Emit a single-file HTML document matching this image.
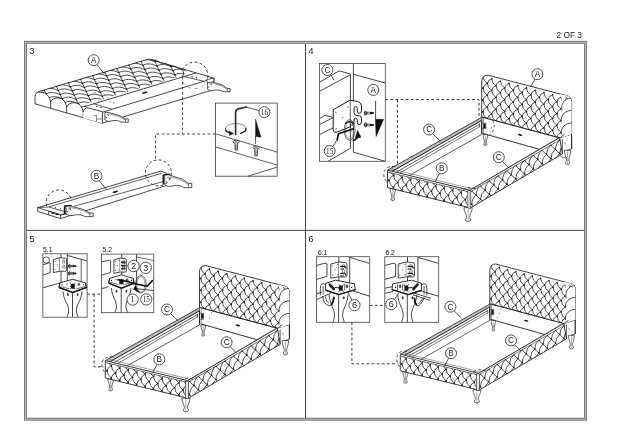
<!DOCTYPE html>
<html lang="en"><head><meta charset="utf-8"><title>Assembly instructions - 2 OF 3</title>
<style>html,body{margin:0;padding:0;background:#fff;}body{width:620px;height:438px;overflow:hidden;}svg{display:block;filter:grayscale(1);}</style>
</head><body>
<svg width="620" height="438" viewBox="0 0 620 438" role="img" aria-label="Bed assembly instructions, page 2 of 3">
<rect x="0" y="0" width="620" height="438" fill="#fff"/>
<rect x="25.5" y="42.3" width="560" height="376.9" fill="none" stroke="#7d7d7d" stroke-width="3"/>
<rect x="25.5" y="42.3" width="560" height="376.9" fill="none" stroke="#b4b4b4" stroke-width="1"/>
<line x1="305.50" y1="44.00" x2="305.50" y2="418.00" stroke="#444" stroke-width="1" />
<line x1="27.00" y1="230.40" x2="584.00" y2="230.40" stroke="#444" stroke-width="1" />
<text x="556.60" y="38.30" font-size="9" text-anchor="start" font-family="'Liberation Sans', sans-serif" fill="#222" textLength="25.4" lengthAdjust="spacingAndGlyphs">2 OF 3</text>
<text x="29.60" y="53.80" font-size="9" text-anchor="start" font-family="'Liberation Sans', sans-serif" fill="#222" >3</text>
<text x="308.60" y="53.80" font-size="9" text-anchor="start" font-family="'Liberation Sans', sans-serif" fill="#222" >4</text>
<text x="29.60" y="241.80" font-size="9" text-anchor="start" font-family="'Liberation Sans', sans-serif" fill="#222" >5</text>
<text x="308.60" y="241.80" font-size="9" text-anchor="start" font-family="'Liberation Sans', sans-serif" fill="#222" >6</text>
<defs><clipPath id="p3q"><path d="M36.0,92.3 L149.0,58.9 L186.12,68.89 L184.12,75.29 L87.50,103.45 L83.2,112 L66.7,107.1 L50.7,102.3 L40,93.5 Z"/></clipPath></defs>
<path d="M35.00,96.40 L35.00,103.80 L102.40,123.20 L214.00,89.60 L214.00,78.20 L149.00,58.90 L38.00,91.80 Z" stroke="#fff" stroke-width="0.01" fill="#fff" />
<path d="M102.4,123.2 L214,89.6 V78.2" stroke="#1a1a1a" stroke-width="0.8" fill="none" />
<path d="M38.4,91.7 L147.0,59.5 Q149.0,58.699999999999996 151.0,59.5 L214.0,78.2" stroke="#1a1a1a" stroke-width="0.8" fill="none" />
<g clip-path="url(#p3q)">
<path d="M6.0,96.5L25.5,138.0M6.0,96.5Q11.5,93.0 20.0,97.0M7.9,100.6Q13.4,97.2 22.0,101.2M9.9,104.8Q15.4,101.3 23.9,105.3M11.8,108.9Q17.3,105.5 25.9,109.5M13.8,113.1Q19.3,109.6 27.8,113.6M15.7,117.2Q21.2,113.8 29.8,117.8M17.7,121.4Q23.2,117.9 31.7,121.9M19.6,125.5Q25.1,122.1 33.7,126.1M21.6,129.7Q27.1,126.2 35.6,130.2M23.5,133.8Q29.0,130.4 37.6,134.4M18.1,92.9L37.6,134.4M18.1,92.9Q23.6,89.5 32.1,93.5M20.0,97.0Q25.5,93.6 34.1,97.6M22.0,101.2Q27.5,97.8 36.0,101.8M23.9,105.3Q29.4,101.9 38.0,105.9M25.9,109.5Q31.4,106.1 39.9,110.1M27.8,113.6Q33.3,110.2 41.9,114.2M29.8,117.8Q35.3,114.4 43.8,118.4M31.7,121.9Q37.2,118.5 45.8,122.5M33.7,126.1Q39.2,122.7 47.7,126.7M35.6,130.2Q41.1,126.8 49.7,130.8M30.2,89.3L49.7,130.8M30.2,89.3Q35.7,85.9 44.2,89.9M32.1,93.5Q37.6,90.0 46.2,94.0M34.1,97.6Q39.6,94.2 48.1,98.2M36.0,101.8Q41.5,98.3 50.1,102.3M38.0,105.9Q43.5,102.5 52.0,106.5M39.9,110.1Q45.4,106.6 54.0,110.6M41.9,114.2Q47.4,110.8 55.9,114.8M43.8,118.4Q49.3,114.9 57.9,118.9M45.8,122.5Q51.3,119.1 59.8,123.1M47.7,126.7Q53.2,123.2 61.8,127.2M42.2,85.7L61.8,127.2M42.2,85.7Q47.8,82.3 56.3,86.3M44.2,89.9Q49.7,86.5 58.3,90.4M46.2,94.0Q51.7,90.6 60.2,94.6M48.1,98.2Q53.6,94.8 62.2,98.7M50.1,102.3Q55.6,98.9 64.1,102.9M52.0,106.5Q57.5,103.1 66.0,107.0M54.0,110.6Q59.5,107.2 68.0,111.2M55.9,114.8Q61.4,111.4 70.0,115.3M57.9,118.9Q63.4,115.5 71.9,119.5M59.8,123.1Q65.3,119.7 73.9,123.6M54.4,82.1L73.9,123.6M54.4,82.1Q59.9,78.7 68.4,82.7M56.3,86.3Q61.8,82.9 70.4,86.9M58.3,90.4Q63.8,87.0 72.3,91.0M60.2,94.6Q65.7,91.2 74.2,95.2M62.2,98.7Q67.7,95.3 76.2,99.3M64.1,102.9Q69.6,99.5 78.2,103.5M66.1,107.0Q71.6,103.6 80.1,107.6M68.0,111.2Q73.5,107.8 82.0,111.8M70.0,115.3Q75.5,111.9 84.0,115.9M71.9,119.5Q77.4,116.1 86.0,120.1M66.5,78.6L86.0,120.1M66.5,78.6Q72.0,75.2 80.5,79.1M68.4,82.7Q73.9,79.3 82.5,83.3M70.4,86.9Q75.9,83.5 84.4,87.4M72.3,91.0Q77.8,87.6 86.4,91.6M74.2,95.2Q79.8,91.8 88.3,95.7M76.2,99.3Q81.7,95.9 90.2,99.9M78.2,103.5Q83.7,100.1 92.2,104.0M80.1,107.6Q85.6,104.2 94.2,108.2M82.1,111.8Q87.6,108.4 96.1,112.3M84.0,115.9Q89.5,112.5 98.0,116.5M78.5,75.0L98.0,116.5M78.5,75.0Q84.1,71.6 92.6,75.6M80.5,79.1Q86.0,75.7 94.5,79.7M82.5,83.3Q88.0,79.9 96.5,83.9M84.4,87.4Q89.9,84.0 98.5,88.0M86.3,91.6Q91.9,88.2 100.4,92.2M88.3,95.7Q93.8,92.3 102.3,96.3M90.2,99.9Q95.8,96.5 104.3,100.5M92.2,104.0Q97.7,100.6 106.2,104.6M94.2,108.2Q99.7,104.8 108.2,108.8M96.1,112.3Q101.6,108.9 110.1,112.9M90.6,71.4L110.1,112.9M90.6,71.4Q96.2,68.0 104.7,72.0M92.6,75.6Q98.1,72.2 106.6,76.1M94.5,79.7Q100.1,76.3 108.6,80.3M96.5,83.9Q102.0,80.5 110.5,84.4M98.4,88.0Q104.0,84.6 112.5,88.6M100.4,92.2Q105.9,88.8 114.4,92.7M102.3,96.3Q107.9,92.9 116.4,96.9M104.3,100.5Q109.8,97.1 118.3,101.0M106.2,104.6Q111.8,101.2 120.3,105.2M108.2,108.8Q113.7,105.4 122.2,109.3M102.8,67.8L122.2,109.3M102.8,67.8Q108.3,64.4 116.8,68.4M104.7,72.0Q110.2,68.6 118.8,72.6M106.7,76.1Q112.2,72.7 120.7,76.7M108.6,80.3Q114.1,76.9 122.7,80.9M110.5,84.4Q116.1,81.0 124.6,85.0M112.5,88.6Q118.0,85.2 126.5,89.2M114.5,92.7Q120.0,89.3 128.5,93.3M116.4,96.9Q121.9,93.5 130.4,97.5M118.4,101.0Q123.9,97.6 132.4,101.6M120.3,105.2Q125.8,101.8 134.3,105.8M114.8,64.3L134.3,105.8M114.8,64.3Q120.4,60.9 128.9,64.8M116.8,68.4Q122.3,65.0 130.8,69.0M118.8,72.6Q124.3,69.2 132.8,73.1M120.7,76.7Q126.2,73.3 134.8,77.3M122.6,80.9Q128.2,77.5 136.7,81.4M124.6,85.0Q130.1,81.6 138.6,85.6M126.5,89.2Q132.1,85.8 140.6,89.7M128.5,93.3Q134.0,89.9 142.5,93.9M130.4,97.5Q136.0,94.1 144.5,98.0M132.4,101.6Q137.9,98.2 146.4,102.2M127.0,60.7L146.5,102.2M127.0,60.7Q132.5,57.3 141.0,61.3M128.9,64.8Q134.4,61.4 142.9,65.4M130.8,69.0Q136.4,65.6 144.9,69.6M132.8,73.1Q138.3,69.7 146.8,73.7M134.8,77.3Q140.3,73.9 148.8,77.9M136.7,81.4Q142.2,78.0 150.8,82.0M138.7,85.6Q144.2,82.2 152.7,86.2M140.6,89.7Q146.1,86.3 154.6,90.3M142.6,93.9Q148.1,90.5 156.6,94.5M144.5,98.0Q150.0,94.6 158.5,98.6M139.1,57.1L158.6,98.6M139.1,57.1Q144.6,53.7 153.1,57.7M141.0,61.3Q146.5,57.9 155.0,61.8M142.9,65.4Q148.5,62.0 157.0,66.0M144.9,69.6Q150.4,66.2 158.9,70.1M146.8,73.7Q152.4,70.3 160.9,74.3M148.8,77.9Q154.3,74.5 162.8,78.4M150.8,82.0Q156.3,78.6 164.8,82.6M152.7,86.2Q158.2,82.8 166.7,86.7M154.7,90.3Q160.2,86.9 168.7,90.9M156.6,94.5Q162.1,91.1 170.6,95.0M151.2,53.5L170.7,95.0M151.2,53.5Q156.7,50.1 165.2,54.1M153.1,57.7Q158.6,54.3 167.1,58.3M155.0,61.8Q160.6,58.4 169.1,62.4M157.0,66.0Q162.5,62.6 171.0,66.6M158.9,70.1Q164.5,66.7 173.0,70.7M160.9,74.3Q166.4,70.9 174.9,74.9M162.8,78.4Q168.4,75.0 176.9,79.0M164.8,82.6Q170.3,79.2 178.8,83.2M166.8,86.7Q172.3,83.3 180.8,87.3M168.7,90.9Q174.2,87.5 182.7,91.5M163.2,50.0L182.8,91.5M163.2,50.0Q168.8,46.5 177.3,50.5M165.2,54.1Q170.7,50.7 179.2,54.7M167.1,58.3Q172.7,54.8 181.2,58.8M169.1,62.4Q174.6,59.0 183.1,63.0M171.0,66.6Q176.6,63.1 185.1,67.1M173.0,70.7Q178.5,67.3 187.0,71.3M174.9,74.9Q180.5,71.4 189.0,75.4M176.9,79.0Q182.4,75.6 190.9,79.6M178.8,83.2Q184.4,79.7 192.9,83.7M180.8,87.3Q186.3,83.9 194.8,87.9" stroke="#1a1a1a" stroke-width="0.75" fill="none" />
<path d="M6.0,96.5h0.01M7.9,100.6h0.01M9.9,104.8h0.01M11.8,108.9h0.01M13.8,113.1h0.01M15.7,117.2h0.01M17.7,121.4h0.01M19.6,125.5h0.01M21.6,129.7h0.01M23.5,133.8h0.01M18.1,92.9h0.01M20.0,97.0h0.01M22.0,101.2h0.01M23.9,105.3h0.01M25.9,109.5h0.01M27.8,113.6h0.01M29.8,117.8h0.01M31.7,121.9h0.01M33.7,126.1h0.01M35.6,130.2h0.01M30.2,89.3h0.01M32.1,93.5h0.01M34.1,97.6h0.01M36.0,101.8h0.01M38.0,105.9h0.01M39.9,110.1h0.01M41.9,114.2h0.01M43.8,118.4h0.01M45.8,122.5h0.01M47.7,126.7h0.01M42.2,85.7h0.01M44.2,89.9h0.01M46.2,94.0h0.01M48.1,98.2h0.01M50.1,102.3h0.01M52.0,106.5h0.01M54.0,110.6h0.01M55.9,114.8h0.01M57.9,118.9h0.01M59.8,123.1h0.01M54.4,82.1h0.01M56.3,86.3h0.01M58.3,90.4h0.01M60.2,94.6h0.01M62.2,98.7h0.01M64.1,102.9h0.01M66.1,107.0h0.01M68.0,111.2h0.01M70.0,115.3h0.01M71.9,119.5h0.01M66.5,78.6h0.01M68.4,82.7h0.01M70.4,86.9h0.01M72.3,91.0h0.01M74.2,95.2h0.01M76.2,99.3h0.01M78.2,103.5h0.01M80.1,107.6h0.01M82.1,111.8h0.01M84.0,115.9h0.01M78.5,75.0h0.01M80.5,79.1h0.01M82.5,83.3h0.01M84.4,87.4h0.01M86.3,91.6h0.01M88.3,95.7h0.01M90.2,99.9h0.01M92.2,104.0h0.01M94.2,108.2h0.01M96.1,112.3h0.01M90.6,71.4h0.01M92.6,75.6h0.01M94.5,79.7h0.01M96.5,83.9h0.01M98.4,88.0h0.01M100.4,92.2h0.01M102.3,96.3h0.01M104.3,100.5h0.01M106.2,104.6h0.01M108.2,108.8h0.01M102.8,67.8h0.01M104.7,72.0h0.01M106.7,76.1h0.01M108.6,80.3h0.01M110.5,84.4h0.01M112.5,88.6h0.01M114.5,92.7h0.01M116.4,96.9h0.01M118.4,101.0h0.01M120.3,105.2h0.01M114.8,64.3h0.01M116.8,68.4h0.01M118.8,72.6h0.01M120.7,76.7h0.01M122.6,80.9h0.01M124.6,85.0h0.01M126.5,89.2h0.01M128.5,93.3h0.01M130.4,97.5h0.01M132.4,101.6h0.01M127.0,60.7h0.01M128.9,64.8h0.01M130.8,69.0h0.01M132.8,73.1h0.01M134.8,77.3h0.01M136.7,81.4h0.01M138.7,85.6h0.01M140.6,89.7h0.01M142.6,93.9h0.01M144.5,98.0h0.01M139.1,57.1h0.01M141.0,61.3h0.01M142.9,65.4h0.01M144.9,69.6h0.01M146.8,73.7h0.01M148.8,77.9h0.01M150.8,82.0h0.01M152.7,86.2h0.01M154.7,90.3h0.01M156.6,94.5h0.01M151.2,53.5h0.01M153.1,57.7h0.01M155.0,61.8h0.01M157.0,66.0h0.01M158.9,70.1h0.01M160.9,74.3h0.01M162.8,78.4h0.01M164.8,82.6h0.01M166.8,86.7h0.01M168.7,90.9h0.01M163.2,50.0h0.01M165.2,54.1h0.01M167.1,58.3h0.01M169.1,62.4h0.01M171.0,66.6h0.01M173.0,70.7h0.01M174.9,74.9h0.01M176.9,79.0h0.01M178.8,83.2h0.01M180.8,87.3h0.01" stroke="#1a1a1a" stroke-width="1.5" fill="none" stroke-linecap="round"/>
</g>
<path d="M151,59.6 Q157,59.4 160.6,63 Q166,62.6 170.4,66.2 Q176,66 181,69.4 Q184.6,71 183.2,75.4" stroke="#1a1a1a" stroke-width="0.75" fill="none" />
<line x1="84.50" y1="106.66" x2="196.12" y2="72.89" stroke="#1a1a1a" stroke-width="0.8" />
<line x1="102.90" y1="112.10" x2="214.00" y2="78.20" stroke="#1a1a1a" stroke-width="0.8" />
<line x1="181.50" y1="75.90" x2="203.70" y2="81.30" stroke="#1a1a1a" stroke-width="0.7" />
<line x1="93.30" y1="103.60" x2="112.00" y2="109.20" stroke="#1a1a1a" stroke-width="0.7" />
<ellipse cx="144.8" cy="92.6" rx="3.1" ry="0.9" fill="#1a1a1a" transform="rotate(-14 144.8 92.6)"/>
<path d="M96.8,106.5h0.01M101,107.4h0.01M192,76.6h0.01M196.4,77.7h0.01" stroke="#1a1a1a" stroke-width="1.4" fill="none" stroke-linecap="round"/>
<path d="M98.6,100.4v1.4 M113.6,102.4v1.4" stroke="#444" stroke-width="0.6" fill="none" />
<path d="M35,96.4 C35.1,93.2 37.4,92 40.6,92.1 C46.6,92.4 49.8,97 50.7,102.3 C51.4,99.6 54.2,97.7 58,97.9 C63,98.2 65.8,102 66.7,107.1 C67.6,104.4 70.6,102.5 74.5,102.7 C79.4,103 82.2,106.8 83.2,112 V118.1 L35,103.8 Z" stroke="#fff" stroke-width="0.01" fill="#fff" />
<path d="M35,96.4 C35.1,93.2 37.4,92 40.6,92.1 C46.6,92.4 49.8,97 50.7,102.3 C51.4,99.6 54.2,97.7 58,97.9 C63,98.2 65.8,102 66.7,107.1 C67.6,104.4 70.6,102.5 74.5,102.7 C79.4,103 82.2,106.8 83.2,112" stroke="#1a1a1a" stroke-width="0.85" fill="none" />
<path d="M35,96.4 V103.8 L102.4,123.2" stroke="#1a1a1a" stroke-width="0.8" fill="none" />
<path d="M50.7,102.3V108.4 M66.7,107.1V113.2 M83.2,112V118.1" stroke="#1a1a1a" stroke-width="0.8" fill="none" />
<path d="M83.20,112.00 L86.80,107.60 L101.70,111.10 L102.40,111.60 L102.40,123.20 L83.20,118.10 Z" stroke="#fff" stroke-width="0.01" fill="#fff" />
<path d="M83.2,112 Q84.2,108.6 86.8,107.6 L102.4,111.7 V123.2" stroke="#1a1a1a" stroke-width="0.8" fill="none" />
<path d="M94.2,115.6 h2.4 v3.4 h5.6 M96.6,119 v2.6" stroke="#333" stroke-width="0.6" fill="none" />
<path d="M104.90,112.60 C106.63,111.83 109.22,112.60 111.81,113.37 L119.92,115.67 L125.45,118.97 L128.30,118.97 L128.30,122.20 L125.45,122.20 C123.03,122.28 121.31,122.43 119.58,121.35 C117.51,120.13 113.53,120.28 110.94,121.05 C108.87,121.66 106.63,121.20 104.90,119.74 Z" stroke="#1a1a1a" stroke-width="0.75" fill="#fff" />
<path d="M106.80,114.59 Q110.08,113.37 113.53,114.90 L120.44,117.05 L125.45,119.97" stroke="#444" stroke-width="0.55" fill="none" />
<path d="M125.45,118.97 L125.45,122.20" stroke="#1a1a1a" stroke-width="0.6" fill="none" />
<path d="M108.70,115.36h0.01 M106.28,117.67h0.01" stroke="#1a1a1a" stroke-width="1.1" fill="none" stroke-linecap="round"/>
<path d="M207.60,81.70 C209.25,80.89 211.73,81.70 214.21,82.51 L221.98,84.93 L227.27,88.41 L230.00,88.41 L230.00,91.80 L227.27,91.80 C224.96,91.88 223.30,92.04 221.65,90.91 C219.67,89.62 215.87,89.78 213.39,90.59 C211.40,91.23 209.25,90.75 207.60,89.21 Z" stroke="#1a1a1a" stroke-width="0.75" fill="#fff" />
<path d="M209.42,83.80 Q212.56,82.51 215.87,84.12 L222.48,86.39 L227.27,89.46" stroke="#444" stroke-width="0.55" fill="none" />
<path d="M227.27,88.41 L227.27,91.80" stroke="#1a1a1a" stroke-width="0.6" fill="none" />
<path d="M211.24,84.61h0.01 M208.92,87.03h0.01" stroke="#1a1a1a" stroke-width="1.1" fill="none" stroke-linecap="round"/>
<path d="M206.60,79.60 L213.90,78.20 L213.90,81.40 L207.40,83.00 Z" stroke="#1a1a1a" stroke-width="0.7" fill="#fff" />
<path d="M182.4,70 A13.3 13.3 0 0 1 207.6,78" stroke="#1a1a1a" stroke-width="0.85" fill="none" stroke-dasharray="2.8 2.3"/>
<path d="M207.6,78 A13.3 13.3 0 0 1 183,82" stroke="#666" stroke-width="0.7" fill="none" stroke-dasharray="3.4 4"/>
<path d="M88.6,96 A 13 13 0 0 1 110.4,103" stroke="#555" stroke-width="0.6" fill="none" stroke-dasharray="2.8 2.3"/>
<line x1="96.90" y1="64.50" x2="104.50" y2="74.20" stroke="#1a1a1a" stroke-width="0.75" />
<circle cx="93.70" cy="60.20" r="5.5" stroke="#1a1a1a" stroke-width="0.75" fill="#fff" />
<text x="93.70" y="63.11" font-size="8.2" text-anchor="middle" font-family="'Liberation Sans', sans-serif" fill="#222" >A</text>
<path d="M182.6,76.5 V134 M215.4,134 H155.5 V160" stroke="#2a2a2a" stroke-width="0.85" fill="none" stroke-dasharray="2.8 2.3"/>
<path d="M37.70,207.60 L160.80,171.10 L166.80,173.40 L166.80,185.40 L60.50,218.60 L37.70,211.40 Z" stroke="#1a1a1a" stroke-width="0.8" fill="#fff" />
<line x1="48.60" y1="207.00" x2="161.60" y2="173.30" stroke="#1a1a1a" stroke-width="0.7" />
<line x1="74.00" y1="206.30" x2="163.20" y2="181.60" stroke="#1a1a1a" stroke-width="0.7" />
<path d="M37.70,207.60 L48.60,207.00 L71.00,213.50 L60.50,214.90 L48.60,211.00" stroke="#1a1a1a" stroke-width="0.7" fill="#fff" />
<path d="M37.7,207.6 L60.5,214.9 L60.5,218.6 M48.6,211 V214.9 M60.5,214.9 L71.5,211.8" stroke="#1a1a1a" stroke-width="0.7" fill="none" />
<path d="M55.4,207.7h0.01M60.5,208.8h0.01M52,213.2h2 M56,214.3h2" stroke="#1a1a1a" stroke-width="1.2" fill="none" stroke-linecap="round"/>
<ellipse cx="115.3" cy="191.8" rx="3.0" ry="0.9" fill="#1a1a1a" transform="rotate(-14 115.3 191.8)"/>
<path d="M66.00,206.17 C68.01,205.34 71.02,206.17 74.03,207.00 L83.46,209.51 L89.89,213.10 L93.20,213.10 L93.20,216.60 L89.89,216.60 C87.08,216.68 85.07,216.85 83.06,215.68 C80.65,214.35 76.04,214.51 73.03,215.35 C70.62,216.02 68.01,215.52 66.00,213.93 Z" stroke="#1a1a1a" stroke-width="0.75" fill="#fff" />
<path d="M68.21,208.34 Q72.02,207.00 76.04,208.67 L84.07,211.01 L89.89,214.18" stroke="#444" stroke-width="0.55" fill="none" />
<path d="M89.89,213.10 L89.89,216.60" stroke="#1a1a1a" stroke-width="0.6" fill="none" />
<path d="M70.42,209.17h0.01 M67.61,211.68h0.01" stroke="#1a1a1a" stroke-width="1.1" fill="none" stroke-linecap="round"/>
<path d="M64.59,205.84 L64.59,214.01" stroke="#1a1a1a" stroke-width="1.5" fill="none" />
<path d="M64.59,206.00 L71.62,205.34" stroke="#1a1a1a" stroke-width="1.3" fill="none" />
<path d="M164.70,175.10 C166.70,174.10 169.70,175.10 172.70,176.10 L182.10,179.10 L188.50,183.40 L191.80,183.40 L191.80,187.60 L188.50,187.60 C185.70,187.70 183.70,187.90 181.70,186.50 C179.30,184.90 174.70,185.10 171.70,186.10 C169.30,186.90 166.70,186.30 164.70,184.40 Z" stroke="#1a1a1a" stroke-width="0.75" fill="#fff" />
<path d="M166.90,177.70 Q170.70,176.10 174.70,178.10 L182.70,180.90 L188.50,184.70" stroke="#444" stroke-width="0.55" fill="none" />
<path d="M188.50,183.40 L188.50,187.60" stroke="#1a1a1a" stroke-width="0.6" fill="none" />
<path d="M169.10,178.70h0.01 M166.30,181.70h0.01" stroke="#1a1a1a" stroke-width="1.1" fill="none" stroke-linecap="round"/>
<path d="M163.30,174.70 L163.30,184.50" stroke="#1a1a1a" stroke-width="1.5" fill="none" />
<path d="M163.30,174.90 L170.30,174.10" stroke="#1a1a1a" stroke-width="1.3" fill="none" />
<line x1="99.20" y1="180.60" x2="106.50" y2="189.50" stroke="#1a1a1a" stroke-width="0.75" />
<circle cx="96.50" cy="175.80" r="5.5" stroke="#1a1a1a" stroke-width="0.75" fill="#fff" />
<text x="96.50" y="178.71" font-size="8.2" text-anchor="middle" font-family="'Liberation Sans', sans-serif" fill="#222" >B</text>
<path d="M46.6,206 A12.4 12.4 0 0 1 71.2,199.4" stroke="#1a1a1a" stroke-width="0.85" fill="none" stroke-dasharray="2.8 2.3"/>
<path d="M70.4,207 A12.4 12.4 0 0 1 64,212.6" stroke="#555" stroke-width="0.6" fill="none" stroke-dasharray="2.8 2.3"/>
<circle cx="158.40" cy="172.90" r="13" stroke="#1a1a1a" stroke-width="0.85" fill="none" stroke-dasharray="2.8 2.3"/>
<rect x="215.4" y="103.1" width="61.8" height="73.1" fill="#fff" stroke="#3a3a3a" stroke-width="0.8"/>
<line x1="215.40" y1="133.80" x2="277.20" y2="152.10" stroke="#1a1a1a" stroke-width="0.7" />
<line x1="215.40" y1="146.90" x2="277.20" y2="165.10" stroke="#1a1a1a" stroke-width="0.7" />
<line x1="247.90" y1="176.20" x2="277.20" y2="167.10" stroke="#1a1a1a" stroke-width="0.7" />
<path d="M225.4,129.4 A10.3 5.3 0 0 1 246,128.2" stroke="#555" stroke-width="0.7" fill="none" />
<path d="M246,128.2 A10.3 5.3 0 0 1 240,133.4" stroke="#1a1a1a" stroke-width="1.4" fill="none" />
<path d="M225.4,129.4 A10.3 5.3 0 0 0 231,133.2" stroke="#1a1a1a" stroke-width="1.4" fill="none" />
<path d="M229.20,131.20 L233.60,133.60 L229.40,135.40 Z" stroke="#1a1a1a" stroke-width="0.5" fill="#1a1a1a" />
<path d="M235.6,134.2 V112.6 Q235.6,109.4 239,108.6 L246.6,107" stroke="#333" stroke-width="1.7" fill="none" stroke-linecap="round" stroke-linejoin="round"/>
<line x1="246.60" y1="107.30" x2="259.20" y2="110.60" stroke="#1a1a1a" stroke-width="0.7" />
<circle cx="264.40" cy="112.20" r="5.5" stroke="#1a1a1a" stroke-width="0.75" fill="#fff" />
<text x="264.40" y="115.04" font-size="8" text-anchor="middle" font-family="'Liberation Serif', serif" fill="#222" textLength="7.2" lengthAdjust="spacingAndGlyphs">16</text>
<path d="M255.50,119.00 L255.50,136.60 L261.00,137.30 Z" stroke="#1a1a1a" stroke-width="0.4" fill="#1a1a1a" />
<line x1="255.50" y1="136.00" x2="255.50" y2="143.80" stroke="#1a1a1a" stroke-width="0.7" />
<ellipse cx="236.20" cy="141.80" rx="3.2" ry="1.5" stroke="#1a1a1a" stroke-width="0.8" fill="#fff" />
<path d="M235.00,143.20 V150.00 H237.40 V143.20" stroke="#1a1a1a" stroke-width="0.8" fill="#fff" />
<path d="M235.00,145.20h2.40 M235.00,146.80h2.40 M235.00,148.40h2.40" stroke="#1a1a1a" stroke-width="0.5" fill="none" />
<path d="M234.80,141.80h2.80" stroke="#1a1a1a" stroke-width="0.6" fill="none" />
<ellipse cx="256.10" cy="147.60" rx="3.2" ry="1.5" stroke="#1a1a1a" stroke-width="0.8" fill="#fff" />
<path d="M254.90,149.00 V155.80 H257.30 V149.00" stroke="#1a1a1a" stroke-width="0.8" fill="#fff" />
<path d="M254.90,151.00h2.40 M254.90,152.60h2.40 M254.90,154.20h2.40" stroke="#1a1a1a" stroke-width="0.5" fill="none" />
<path d="M254.70,147.60h2.80" stroke="#1a1a1a" stroke-width="0.6" fill="none" />
<g id="p4">
<defs><clipPath id="hba"><path d="M481.7,117 L481.7,82 Q481.7,75 488,75.2 L566,95.5 Q571.6,96.5 571.6,102 L571.6,134.4 L559.5,137.8 Z"/></clipPath><clipPath id="fba"><path d="M387.5,172.0 L467.90000000000003,191.6 L467.90000000000003,207.5 L387.5,187.6 Z"/></clipPath><clipPath id="rra"><path d="M470.6,191.7 L560.2,139.7 L562.3,154.0 L470.4,207.9 Z"/></clipPath></defs>
<path d="M483.10,134.60 C483.10,137.96 484.36,139.64 484.57,142.22 C484.62,143.11 483.67,143.56 484.02,145.02 Q485.40,146.47 486.78,145.02 C487.12,143.56 486.18,143.11 486.23,142.22 C486.44,139.64 487.70,137.96 487.70,134.60 Z" stroke="#2a2a2a" stroke-width="0.7" fill="#fff" />
<path d="M485.40,135.72 L485.40,145.24" stroke="#555" stroke-width="0.5" fill="none" />
<path d="M564.40,150.20 C564.40,154.58 566.16,156.77 566.45,160.13 C566.51,161.30 565.20,161.88 565.68,163.78 Q567.60,165.68 569.52,163.78 C570.00,161.88 568.69,161.30 568.75,160.13 C569.04,156.77 570.80,154.58 570.80,150.20 Z" stroke="#2a2a2a" stroke-width="0.7" fill="#fff" />
<path d="M567.60,151.66 L567.60,164.07" stroke="#555" stroke-width="0.5" fill="none" />
<line x1="409.40" y1="175.40" x2="482.00" y2="134.30" stroke="#1a1a1a" stroke-width="0.7" />
<line x1="483.00" y1="133.40" x2="540.70" y2="149.60" stroke="#1a1a1a" stroke-width="0.7" />
<path d="M481.70,117.00 L559.50,137.80 L559.50,139.50 L540.70,149.60 L483.00,133.40 L481.70,133.40 Z" stroke="#1a1a1a" stroke-width="0.7" fill="#fff" />
<ellipse cx="520" cy="134.9" rx="2.3" ry="0.9" fill="#1a1a1a" transform="rotate(14 520 134.9)"/>
<path d="M493.6,121.6 v1.6 M491.6,126.4 v2 M490.2,130.6 v1.4" stroke="#666" stroke-width="0.6" fill="none" />
<path d="M481.7,134.6 L481.7,82 Q481.7,75 488,75.2 L566,95.5 Q571.6,96.5 571.6,102 L571.6,148.7" stroke="#1a1a1a" stroke-width="0.85" fill="none" />
<path d="M481.7,117 L559.5,137.8 L571.6,134.2" stroke="#1a1a1a" stroke-width="0.75" fill="none" />
<g clip-path="url(#hba)">
<path d="M483.0,76.4Q479.3,77.4 478.6,81.1M483.0,76.4Q483.2,81.1 487.3,83.4M491.7,78.7Q488.0,79.7 487.3,83.4M491.7,78.7Q491.9,83.4 496.0,85.7M500.4,81.0Q496.7,82.0 496.0,85.7M500.4,81.0Q500.6,85.7 504.7,88.0M509.1,83.3Q505.4,84.3 504.7,88.0M509.1,83.3Q509.3,88.0 513.4,90.3M517.8,85.6Q514.1,86.6 513.4,90.3M517.8,85.6Q518.0,90.3 522.1,92.6M526.5,87.9Q522.8,88.9 522.1,92.6M526.5,87.9Q526.7,92.6 530.8,94.9M535.2,90.2Q531.5,91.2 530.8,94.9M535.2,90.2Q535.4,94.9 539.5,97.2M543.9,92.5Q540.2,93.5 539.5,97.2M543.9,92.5Q544.1,97.2 548.2,99.5M552.6,94.8Q548.9,95.8 548.2,99.5M552.6,94.8Q552.8,99.5 556.9,101.8M561.2,97.1Q557.6,98.1 556.9,101.8M561.2,97.1Q561.5,101.8 565.6,104.2M570.0,99.4Q566.3,100.4 565.6,104.2M570.0,99.4Q570.2,104.1 574.3,106.5M478.6,81.1Q475.0,82.1 474.3,85.8M478.6,81.1Q478.8,85.8 483.0,88.2M487.3,83.4Q483.7,84.4 483.0,88.2M487.3,83.4Q487.5,88.1 491.7,90.5M496.0,85.7Q492.4,86.7 491.7,90.5M496.0,85.7Q496.2,90.4 500.4,92.8M504.7,88.0Q501.1,89.0 500.4,92.8M504.7,88.0Q504.9,92.8 509.1,95.1M513.4,90.3Q509.8,91.3 509.1,95.1M513.4,90.3Q513.6,95.1 517.8,97.4M522.1,92.6Q518.5,93.6 517.8,97.4M522.1,92.6Q522.3,97.4 526.5,99.7M530.8,94.9Q527.2,96.0 526.5,99.7M530.8,94.9Q531.0,99.7 535.2,102.0M539.5,97.2Q535.9,98.3 535.2,102.0M539.5,97.2Q539.7,102.0 543.9,104.3M548.2,99.5Q544.6,100.6 543.9,104.3M548.2,99.5Q548.4,104.3 552.6,106.6M556.9,101.8Q553.3,102.9 552.6,106.6M556.9,101.8Q557.1,106.6 561.2,108.9M565.6,104.2Q562.0,105.2 561.2,108.9M565.6,104.2Q565.8,108.9 570.0,111.2M483.0,88.2Q479.3,89.2 478.6,92.9M483.0,88.2Q483.2,92.9 487.3,95.2M491.7,90.5Q488.0,91.5 487.3,95.2M491.7,90.5Q491.9,95.2 496.0,97.5M500.4,92.8Q496.7,93.8 496.0,97.5M500.4,92.8Q500.6,97.5 504.7,99.8M509.1,95.1Q505.4,96.1 504.7,99.8M509.1,95.1Q509.3,99.8 513.4,102.1M517.8,97.4Q514.1,98.4 513.4,102.1M517.8,97.4Q518.0,102.1 522.1,104.4M526.5,99.7Q522.8,100.7 522.1,104.4M526.5,99.7Q526.7,104.4 530.8,106.7M535.2,102.0Q531.5,103.0 530.8,106.7M535.2,102.0Q535.4,106.7 539.5,109.0M543.9,104.3Q540.2,105.3 539.5,109.0M543.9,104.3Q544.1,109.0 548.2,111.3M552.6,106.6Q548.9,107.6 548.2,111.3M552.6,106.6Q552.8,111.3 556.9,113.6M561.2,108.9Q557.6,109.9 556.9,113.6M561.2,108.9Q561.5,113.6 565.6,116.0M570.0,111.2Q566.3,112.2 565.6,116.0M570.0,111.2Q570.2,115.9 574.3,118.3M478.6,92.9Q475.0,93.9 474.3,97.6M478.6,92.9Q478.8,97.6 483.0,100.0M487.3,95.2Q483.7,96.2 483.0,100.0M487.3,95.2Q487.5,99.9 491.7,102.3M496.0,97.5Q492.4,98.5 491.7,102.3M496.0,97.5Q496.2,102.2 500.4,104.6M504.7,99.8Q501.1,100.8 500.4,104.6M504.7,99.8Q504.9,104.6 509.1,106.9M513.4,102.1Q509.8,103.1 509.1,106.9M513.4,102.1Q513.6,106.9 517.8,109.2M522.1,104.4Q518.5,105.4 517.8,109.2M522.1,104.4Q522.3,109.2 526.5,111.5M530.8,106.7Q527.2,107.8 526.5,111.5M530.8,106.7Q531.0,111.5 535.2,113.8M539.5,109.0Q535.9,110.1 535.2,113.8M539.5,109.0Q539.7,113.8 543.9,116.1M548.2,111.3Q544.6,112.4 543.9,116.1M548.2,111.3Q548.4,116.1 552.6,118.4M556.9,113.6Q553.3,114.7 552.6,118.4M556.9,113.6Q557.1,118.4 561.2,120.7M565.6,116.0Q562.0,117.0 561.2,120.7M565.6,116.0Q565.8,120.7 570.0,123.0M483.0,100.0Q479.3,101.0 478.6,104.7M483.0,100.0Q483.2,104.7 487.3,107.0M491.7,102.3Q488.0,103.3 487.3,107.0M491.7,102.3Q491.9,107.0 496.0,109.3M500.4,104.6Q496.7,105.6 496.0,109.3M500.4,104.6Q500.6,109.3 504.7,111.6M509.1,106.9Q505.4,107.9 504.7,111.6M509.1,106.9Q509.3,111.6 513.4,113.9M517.8,109.2Q514.1,110.2 513.4,113.9M517.8,109.2Q518.0,113.9 522.1,116.2M526.5,111.5Q522.8,112.5 522.1,116.2M526.5,111.5Q526.7,116.2 530.8,118.5M535.2,113.8Q531.5,114.8 530.8,118.5M535.2,113.8Q535.4,118.5 539.5,120.8M543.9,116.1Q540.2,117.1 539.5,120.8M543.9,116.1Q544.1,120.8 548.2,123.1M552.6,118.4Q548.9,119.4 548.2,123.1M552.6,118.4Q552.8,123.1 556.9,125.4M561.2,120.7Q557.6,121.7 556.9,125.4M561.2,120.7Q561.5,125.4 565.6,127.8M570.0,123.0Q566.3,124.0 565.6,127.8M570.0,123.0Q570.2,127.7 574.3,130.1M478.6,104.7Q475.0,105.7 474.3,109.4M478.6,104.7Q478.8,109.4 483.0,111.8M487.3,107.0Q483.7,108.0 483.0,111.8M487.3,107.0Q487.5,111.7 491.7,114.1M496.0,109.3Q492.4,110.3 491.7,114.1M496.0,109.3Q496.2,114.0 500.4,116.4M504.7,111.6Q501.1,112.6 500.4,116.4M504.7,111.6Q504.9,116.4 509.1,118.7M513.4,113.9Q509.8,114.9 509.1,118.7M513.4,113.9Q513.6,118.7 517.8,121.0M522.1,116.2Q518.5,117.2 517.8,121.0M522.1,116.2Q522.3,121.0 526.5,123.3M530.8,118.5Q527.2,119.6 526.5,123.3M530.8,118.5Q531.0,123.3 535.2,125.6M539.5,120.8Q535.9,121.9 535.2,125.6M539.5,120.8Q539.7,125.6 543.9,127.9M548.2,123.1Q544.6,124.2 543.9,127.9M548.2,123.1Q548.4,127.9 552.6,130.2M556.9,125.4Q553.3,126.5 552.6,130.2M556.9,125.4Q557.1,130.2 561.2,132.5M565.6,127.8Q562.0,128.8 561.2,132.5M565.6,127.8Q565.8,132.5 570.0,134.8M483.0,111.8Q479.3,112.8 478.6,116.5M483.0,111.8Q483.2,116.5 487.3,118.8M491.7,114.1Q488.0,115.1 487.3,118.8M491.7,114.1Q491.9,118.8 496.0,121.1M500.4,116.4Q496.7,117.4 496.0,121.1M500.4,116.4Q500.6,121.1 504.7,123.4M509.1,118.7Q505.4,119.7 504.7,123.4M509.1,118.7Q509.3,123.4 513.4,125.7M517.8,121.0Q514.1,122.0 513.4,125.7M517.8,121.0Q518.0,125.7 522.1,128.0M526.5,123.3Q522.8,124.3 522.1,128.0M526.5,123.3Q526.7,128.0 530.8,130.3M535.2,125.6Q531.5,126.6 530.8,130.3M535.2,125.6Q535.4,130.3 539.5,132.6M543.9,127.9Q540.2,128.9 539.5,132.6M543.9,127.9Q544.1,132.6 548.2,134.9M552.6,130.2Q548.9,131.2 548.2,134.9M552.6,130.2Q552.8,134.9 556.9,137.2M561.2,132.5Q557.6,133.5 556.9,137.2M561.2,132.5Q561.5,137.2 565.6,139.6M570.0,134.8Q566.3,135.8 565.6,139.6M570.0,134.8Q570.2,139.5 574.3,141.9M478.6,116.5Q475.0,117.5 474.3,121.2M478.6,116.5Q478.8,121.2 483.0,123.6M487.3,118.8Q483.7,119.8 483.0,123.6M487.3,118.8Q487.5,123.5 491.7,125.9M496.0,121.1Q492.4,122.1 491.7,125.9M496.0,121.1Q496.2,125.8 500.4,128.2M504.7,123.4Q501.1,124.4 500.4,128.2M504.7,123.4Q504.9,128.2 509.1,130.5M513.4,125.7Q509.8,126.7 509.1,130.5M513.4,125.7Q513.6,130.5 517.8,132.8M522.1,128.0Q518.5,129.0 517.8,132.8M522.1,128.0Q522.3,132.8 526.5,135.1M530.8,130.3Q527.2,131.4 526.5,135.1M530.8,130.3Q531.0,135.1 535.2,137.4M539.5,132.6Q535.9,133.7 535.2,137.4M539.5,132.6Q539.7,137.4 543.9,139.7M548.2,134.9Q544.6,136.0 543.9,139.7M548.2,134.9Q548.4,139.7 552.6,142.0M556.9,137.2Q553.3,138.3 552.6,142.0M556.9,137.2Q557.1,142.0 561.2,144.3M565.6,139.6Q562.0,140.6 561.2,144.3M565.6,139.6Q565.8,144.3 570.0,146.6M483.0,123.6Q479.3,124.6 478.6,128.3M483.0,123.6Q483.2,128.3 487.3,130.6M491.7,125.9Q488.0,126.9 487.3,130.6M491.7,125.9Q491.9,130.6 496.0,132.9M500.4,128.2Q496.7,129.2 496.0,132.9M500.4,128.2Q500.6,132.9 504.7,135.2M509.1,130.5Q505.4,131.5 504.7,135.2M509.1,130.5Q509.3,135.2 513.4,137.5M517.8,132.8Q514.1,133.8 513.4,137.5M517.8,132.8Q518.0,137.5 522.1,139.8M526.5,135.1Q522.8,136.1 522.1,139.8M526.5,135.1Q526.7,139.8 530.8,142.1M535.2,137.4Q531.5,138.4 530.8,142.1M535.2,137.4Q535.4,142.1 539.5,144.4M543.9,139.7Q540.2,140.7 539.5,144.4M543.9,139.7Q544.1,144.4 548.2,146.7M552.6,142.0Q548.9,143.0 548.2,146.7M552.6,142.0Q552.8,146.7 556.9,149.0M561.2,144.3Q557.6,145.3 556.9,149.0M561.2,144.3Q561.5,149.0 565.6,151.4M570.0,146.6Q566.3,147.6 565.6,151.4M570.0,146.6Q570.2,151.3 574.3,153.7" stroke="#1a1a1a" stroke-width="0.75" fill="none" />
<path d="M483.0,76.4h0.01M491.7,78.7h0.01M500.4,81.0h0.01M509.1,83.3h0.01M517.8,85.6h0.01M526.5,87.9h0.01M535.2,90.2h0.01M543.9,92.5h0.01M552.6,94.8h0.01M561.2,97.1h0.01M570.0,99.4h0.01M478.6,81.1h0.01M487.3,83.4h0.01M496.0,85.7h0.01M504.7,88.0h0.01M513.4,90.3h0.01M522.1,92.6h0.01M530.8,94.9h0.01M539.5,97.2h0.01M548.2,99.5h0.01M556.9,101.8h0.01M565.6,104.2h0.01M483.0,88.2h0.01M491.7,90.5h0.01M500.4,92.8h0.01M509.1,95.1h0.01M517.8,97.4h0.01M526.5,99.7h0.01M535.2,102.0h0.01M543.9,104.3h0.01M552.6,106.6h0.01M561.2,108.9h0.01M570.0,111.2h0.01M478.6,92.9h0.01M487.3,95.2h0.01M496.0,97.5h0.01M504.7,99.8h0.01M513.4,102.1h0.01M522.1,104.4h0.01M530.8,106.7h0.01M539.5,109.0h0.01M548.2,111.3h0.01M556.9,113.6h0.01M565.6,116.0h0.01M483.0,100.0h0.01M491.7,102.3h0.01M500.4,104.6h0.01M509.1,106.9h0.01M517.8,109.2h0.01M526.5,111.5h0.01M535.2,113.8h0.01M543.9,116.1h0.01M552.6,118.4h0.01M561.2,120.7h0.01M570.0,123.0h0.01M478.6,104.7h0.01M487.3,107.0h0.01M496.0,109.3h0.01M504.7,111.6h0.01M513.4,113.9h0.01M522.1,116.2h0.01M530.8,118.5h0.01M539.5,120.8h0.01M548.2,123.1h0.01M556.9,125.4h0.01M565.6,127.8h0.01M483.0,111.8h0.01M491.7,114.1h0.01M500.4,116.4h0.01M509.1,118.7h0.01M517.8,121.0h0.01M526.5,123.3h0.01M535.2,125.6h0.01M543.9,127.9h0.01M552.6,130.2h0.01M561.2,132.5h0.01M570.0,134.8h0.01M478.6,116.5h0.01M487.3,118.8h0.01M496.0,121.1h0.01M504.7,123.4h0.01M513.4,125.7h0.01M522.1,128.0h0.01M530.8,130.3h0.01M539.5,132.6h0.01M548.2,134.9h0.01M556.9,137.2h0.01M565.6,139.6h0.01M483.0,123.6h0.01M491.7,125.9h0.01M500.4,128.2h0.01M509.1,130.5h0.01M517.8,132.8h0.01M526.5,135.1h0.01M535.2,137.4h0.01M543.9,139.7h0.01M552.6,142.0h0.01M561.2,144.3h0.01M570.0,146.6h0.01M478.6,128.3h0.01M487.3,130.6h0.01M496.0,132.9h0.01M504.7,135.2h0.01M513.4,137.5h0.01M522.1,139.8h0.01M530.8,142.1h0.01M539.5,144.4h0.01M548.2,146.7h0.01M556.9,149.0h0.01M565.6,151.4h0.01" stroke="#1a1a1a" stroke-width="1.6" fill="none" stroke-linecap="round"/>
</g>
<path d="M559.6,93.9 L566,95.5 Q571.6,96.5 571.6,102 L571.6,134.2 L561.2,137.6 L561.3,110 Q560.6,103 562,99 Z" fill="#fff" stroke="none"/>
<path d="M562,110.4 C560.6,104 564.4,98.4 571,97.9 M561.3,121.5 C560.4,115.4 565,110.6 571.6,110.4 M561.3,134.1 C560.4,128 565,123.2 571.6,123 M561.3,137.4 Q561.6,135.6 564.4,134.6" stroke="#1a1a1a" stroke-width="0.8" fill="none" />
<path d="M565.2,96.6 l2.2,2.6 M567.8,96.8 l-2.6,2.2" stroke="#1a1a1a" stroke-width="0.5" fill="none" />
<path d="M571.6,134.2 L571.6,148.7 L567,150.5 M562.3,139 L562.3,154" stroke="#1a1a1a" stroke-width="0.75" fill="none" />
<path d="M564.4,142.2 l1.6,2.4" stroke="#555" stroke-width="0.6" fill="none" />
<path d="M387.50,170.20 L481.70,117.40 L481.70,119.60 L391.50,171.40 Z" stroke="#666" stroke-width="0.4" fill="#d6d6d6" />
<line x1="387.50" y1="170.20" x2="481.70" y2="117.40" stroke="#1a1a1a" stroke-width="0.7" />
<line x1="389.50" y1="170.60" x2="481.70" y2="118.50" stroke="#777" stroke-width="0.4" stroke-dasharray="5 1.2"/>
<line x1="392.00" y1="171.40" x2="481.70" y2="120.40" stroke="#1a1a1a" stroke-width="1.0" />
<line x1="396.00" y1="172.40" x2="479.60" y2="124.20" stroke="#1a1a1a" stroke-width="0.7" />
<line x1="399.50" y1="173.30" x2="479.60" y2="126.60" stroke="#1a1a1a" stroke-width="0.6" />
<line x1="479.60" y1="123.60" x2="479.60" y2="127.40" stroke="#1a1a1a" stroke-width="0.7" />
<line x1="483.40" y1="118.00" x2="483.40" y2="133.40" stroke="#444" stroke-width="0.6" />
<rect x="483.3" y="123.6" width="2.4" height="4.6" fill="#1a1a1a"/>
<rect x="481.4" y="123" width="4.6" height="5.8" fill="none" stroke="#1a1a1a" stroke-width="0.5"/>
<path d="M390.10,187.80 C390.10,191.70 391.64,193.65 391.89,196.64 C391.95,197.68 390.80,198.20 391.22,199.89 Q392.90,201.58 394.58,199.89 C395.00,198.20 393.85,197.68 393.91,196.64 C394.16,193.65 395.70,191.70 395.70,187.80 Z" stroke="#2a2a2a" stroke-width="0.7" fill="#fff" />
<path d="M392.90,189.10 L392.90,200.15" stroke="#555" stroke-width="0.5" fill="none" />
<path d="M464.00,207.60 C464.00,211.80 466.25,213.90 466.62,217.12 C466.71,218.24 465.03,218.80 465.64,220.62 Q468.10,222.44 470.56,220.62 C471.18,218.80 469.49,218.24 469.58,217.12 C469.95,213.90 472.20,211.80 472.20,207.60 Z" stroke="#2a2a2a" stroke-width="0.7" fill="#fff" />
<path d="M468.10,209.00 L468.10,220.90" stroke="#555" stroke-width="0.5" fill="none" />
<path d="M387.50,170.20 L469.80,190.20 L470.40,207.90 L387.50,187.60 Z" stroke="#1a1a1a" stroke-width="0.85" fill="#fff" />
<line x1="387.50" y1="172.00" x2="467.90" y2="191.60" stroke="#1a1a1a" stroke-width="0.6" />
<line x1="392.00" y1="169.20" x2="472.50" y2="189.00" stroke="#444" stroke-width="0.5" />
<g clip-path="url(#fba)">
<path d="M389.3,168.3Q385.7,169.5 385.1,173.3M389.3,168.3Q389.5,173.0 393.6,175.4M397.8,170.4Q394.1,171.6 393.6,175.4M397.8,170.4Q397.9,175.2 402.0,177.6M406.2,172.6Q402.6,173.8 402.0,177.6M406.2,172.6Q406.4,177.3 410.5,179.7M414.7,174.7Q411.0,175.9 410.5,179.7M414.7,174.7Q414.8,179.4 418.9,181.8M423.1,176.8Q419.5,178.0 418.9,181.8M423.1,176.8Q423.3,181.6 427.4,183.9M431.6,179.0Q427.9,180.2 427.4,183.9M431.6,179.0Q431.7,183.7 435.8,186.1M440.0,181.1Q436.4,182.3 435.8,186.1M440.0,181.1Q440.2,185.8 444.2,188.2M448.5,183.2Q444.8,184.4 444.2,188.2M448.5,183.2Q448.6,188.0 452.7,190.3M456.9,185.3Q453.3,186.5 452.7,190.3M456.9,185.3Q457.1,190.1 461.2,192.5M465.4,187.5Q461.7,188.7 461.2,192.5M465.4,187.5Q465.5,192.2 469.6,194.6M473.8,189.6Q470.2,190.8 469.6,194.6M473.8,189.6Q474.0,194.3 478.1,196.7M385.1,173.3Q381.5,174.5 380.9,178.3M385.1,173.3Q385.2,178.0 389.3,180.4M393.6,175.4Q389.9,176.6 389.3,180.4M393.6,175.4Q393.7,180.2 397.8,182.5M402.0,177.6Q398.4,178.8 397.8,182.5M402.0,177.6Q402.1,182.3 406.2,184.7M410.5,179.7Q406.8,180.9 406.2,184.7M410.5,179.7Q410.6,184.4 414.7,186.8M418.9,181.8Q415.3,183.0 414.7,186.8M418.9,181.8Q419.0,186.5 423.1,188.9M427.4,183.9Q423.7,185.1 423.1,188.9M427.4,183.9Q427.5,188.7 431.6,191.1M435.8,186.1Q432.2,187.3 431.6,191.1M435.8,186.1Q435.9,190.8 440.0,193.2M444.2,188.2Q440.6,189.4 440.0,193.2M444.2,188.2Q444.4,192.9 448.5,195.3M452.7,190.3Q449.1,191.5 448.5,195.3M452.7,190.3Q452.8,195.1 456.9,197.4M461.2,192.5Q457.5,193.7 456.9,197.4M461.2,192.5Q461.3,197.2 465.4,199.6M469.6,194.6Q466.0,195.8 465.4,199.6M469.6,194.6Q469.7,199.3 473.8,201.7M389.3,180.4Q385.7,181.6 385.1,185.4M389.3,180.4Q389.5,185.1 393.6,187.5M397.8,182.5Q394.1,183.7 393.6,187.5M397.8,182.5Q397.9,187.3 402.0,189.7M406.2,184.7Q402.6,185.9 402.0,189.7M406.2,184.7Q406.4,189.4 410.5,191.8M414.7,186.8Q411.0,188.0 410.5,191.8M414.7,186.8Q414.8,191.5 418.9,193.9M423.1,188.9Q419.5,190.1 418.9,193.9M423.1,188.9Q423.3,193.7 427.4,196.0M431.6,191.1Q427.9,192.3 427.4,196.0M431.6,191.1Q431.7,195.8 435.8,198.2M440.0,193.2Q436.4,194.4 435.8,198.2M440.0,193.2Q440.2,197.9 444.2,200.3M448.5,195.3Q444.8,196.5 444.2,200.3M448.5,195.3Q448.6,200.1 452.7,202.4M456.9,197.4Q453.3,198.6 452.7,202.4M456.9,197.4Q457.1,202.2 461.2,204.6M465.4,199.6Q461.7,200.8 461.2,204.6M465.4,199.6Q465.5,204.3 469.6,206.7M473.8,201.7Q470.2,202.9 469.6,206.7M473.8,201.7Q474.0,206.4 478.1,208.8M385.1,185.4Q381.5,186.6 380.9,190.4M385.1,185.4Q385.2,190.1 389.3,192.5M393.6,187.5Q389.9,188.7 389.3,192.5M393.6,187.5Q393.7,192.3 397.8,194.6M402.0,189.7Q398.4,190.9 397.8,194.6M402.0,189.7Q402.1,194.4 406.2,196.8M410.5,191.8Q406.8,193.0 406.2,196.8M410.5,191.8Q410.6,196.5 414.7,198.9M418.9,193.9Q415.3,195.1 414.7,198.9M418.9,193.9Q419.0,198.6 423.1,201.0M427.4,196.0Q423.7,197.2 423.1,201.0M427.4,196.0Q427.5,200.8 431.6,203.2M435.8,198.2Q432.2,199.4 431.6,203.2M435.8,198.2Q435.9,202.9 440.0,205.3M444.2,200.3Q440.6,201.5 440.0,205.3M444.2,200.3Q444.4,205.0 448.5,207.4M452.7,202.4Q449.1,203.6 448.5,207.4M452.7,202.4Q452.8,207.2 456.9,209.5M461.2,204.6Q457.5,205.8 456.9,209.5M461.2,204.6Q461.3,209.3 465.4,211.7M469.6,206.7Q466.0,207.9 465.4,211.7M469.6,206.7Q469.7,211.4 473.8,213.8" stroke="#1a1a1a" stroke-width="0.75" fill="none" />
<path d="M389.3,168.3h0.01M397.8,170.4h0.01M406.2,172.6h0.01M414.7,174.7h0.01M423.1,176.8h0.01M431.6,179.0h0.01M440.0,181.1h0.01M448.5,183.2h0.01M456.9,185.3h0.01M465.4,187.5h0.01M473.8,189.6h0.01M385.1,173.3h0.01M393.6,175.4h0.01M402.0,177.6h0.01M410.5,179.7h0.01M418.9,181.8h0.01M427.4,183.9h0.01M435.8,186.1h0.01M444.2,188.2h0.01M452.7,190.3h0.01M461.2,192.5h0.01M469.6,194.6h0.01M389.3,180.4h0.01M397.8,182.5h0.01M406.2,184.7h0.01M414.7,186.8h0.01M423.1,188.9h0.01M431.6,191.1h0.01M440.0,193.2h0.01M448.5,195.3h0.01M456.9,197.4h0.01M465.4,199.6h0.01M473.8,201.7h0.01M385.1,185.4h0.01M393.6,187.5h0.01M402.0,189.7h0.01M410.5,191.8h0.01M418.9,193.9h0.01M427.4,196.0h0.01M435.8,198.2h0.01M444.2,200.3h0.01M452.7,202.4h0.01M461.2,204.6h0.01M469.6,206.7h0.01M389.3,192.5h0.01M397.8,194.6h0.01M406.2,196.8h0.01M414.7,198.9h0.01M423.1,201.0h0.01M431.6,203.2h0.01M440.0,205.3h0.01M448.5,207.4h0.01M456.9,209.5h0.01M465.4,211.7h0.01M473.8,213.8h0.01" stroke="#1a1a1a" stroke-width="1.6" fill="none" stroke-linecap="round"/>
</g>
<path d="M469.80,190.20 L559.60,137.70 L562.30,154.00 L470.40,207.90 Z" stroke="#1a1a1a" stroke-width="0.85" fill="#fff" />
<line x1="470.60" y1="191.70" x2="560.20" y2="139.70" stroke="#1a1a1a" stroke-width="0.6" />
<line x1="472.50" y1="189.00" x2="558.60" y2="137.60" stroke="#444" stroke-width="0.5" />
<g clip-path="url(#rra)">
<path d="M467.4,186.6Q463.0,190.2 463.0,195.9M467.4,186.6Q469.0,189.3 471.8,190.8M476.2,181.5Q471.8,185.1 471.8,190.8M476.2,181.5Q477.8,184.2 480.6,185.7M485.0,176.4Q480.6,180.1 480.6,185.7M485.0,176.4Q486.6,179.1 489.4,180.6M493.8,171.3Q489.4,175.0 489.4,180.6M493.8,171.3Q495.4,174.0 498.2,175.6M502.6,166.3Q498.2,169.9 498.2,175.6M502.6,166.3Q504.2,168.9 507.0,170.5M511.4,161.2Q507.0,164.8 507.0,170.5M511.4,161.2Q513.0,163.9 515.8,165.4M520.2,156.1Q515.8,159.7 515.8,165.4M520.2,156.1Q521.8,158.8 524.6,160.3M529.0,151.0Q524.6,154.6 524.6,160.3M529.0,151.0Q530.6,153.7 533.4,155.2M537.8,145.9Q533.4,149.5 533.4,155.2M537.8,145.9Q539.4,148.6 542.2,150.1M546.6,140.8Q542.2,144.4 542.2,150.1M546.6,140.8Q548.2,143.5 551.0,145.0M555.4,135.7Q551.0,139.4 551.0,145.0M555.4,135.7Q557.0,138.4 559.8,139.9M564.2,130.7Q559.8,134.3 559.8,139.9M564.2,130.7Q565.8,133.3 568.6,134.9M463.0,195.9Q458.6,199.5 458.6,205.2M463.0,195.9Q464.6,198.6 467.4,200.1M471.8,190.8Q467.4,194.4 467.4,200.1M471.8,190.8Q473.4,193.5 476.2,195.0M480.6,185.7Q476.2,189.3 476.2,195.0M480.6,185.7Q482.2,188.4 485.0,189.9M489.4,180.6Q485.0,184.3 485.0,189.9M489.4,180.6Q491.0,183.3 493.8,184.8M498.2,175.6Q493.8,179.2 493.8,184.8M498.2,175.6Q499.8,178.2 502.6,179.8M507.0,170.5Q502.6,174.1 502.6,179.8M507.0,170.5Q508.6,173.1 511.4,174.7M515.8,165.4Q511.4,169.0 511.4,174.7M515.8,165.4Q517.4,168.1 520.2,169.6M524.6,160.3Q520.2,163.9 520.2,169.6M524.6,160.3Q526.2,163.0 529.0,164.5M533.4,155.2Q529.0,158.8 529.0,164.5M533.4,155.2Q535.0,157.9 537.8,159.4M542.2,150.1Q537.8,153.7 537.8,159.4M542.2,150.1Q543.8,152.8 546.6,154.3M551.0,145.0Q546.6,148.7 546.6,154.3M551.0,145.0Q552.6,147.7 555.4,149.2M559.8,139.9Q555.4,143.6 555.4,149.2M559.8,139.9Q561.4,142.6 564.2,144.2M467.4,200.1Q463.0,203.7 463.0,209.4M467.4,200.1Q469.0,202.8 471.8,204.3M476.2,195.0Q471.8,198.6 471.8,204.3M476.2,195.0Q477.8,197.7 480.6,199.2M485.0,189.9Q480.6,193.6 480.6,199.2M485.0,189.9Q486.6,192.6 489.4,194.1M493.8,184.8Q489.4,188.5 489.4,194.1M493.8,184.8Q495.4,187.5 498.2,189.1M502.6,179.8Q498.2,183.4 498.2,189.1M502.6,179.8Q504.2,182.4 507.0,184.0M511.4,174.7Q507.0,178.3 507.0,184.0M511.4,174.7Q513.0,177.4 515.8,178.9M520.2,169.6Q515.8,173.2 515.8,178.9M520.2,169.6Q521.8,172.3 524.6,173.8M529.0,164.5Q524.6,168.1 524.6,173.8M529.0,164.5Q530.6,167.2 533.4,168.7M537.8,159.4Q533.4,163.0 533.4,168.7M537.8,159.4Q539.4,162.1 542.2,163.6M546.6,154.3Q542.2,157.9 542.2,163.6M546.6,154.3Q548.2,157.0 551.0,158.5M555.4,149.2Q551.0,152.9 551.0,158.5M555.4,149.2Q557.0,151.9 559.8,153.4M564.2,144.2Q559.8,147.8 559.8,153.4M564.2,144.2Q565.8,146.8 568.6,148.4M463.0,209.4Q458.6,213.0 458.6,218.7M463.0,209.4Q464.6,212.1 467.4,213.6M471.8,204.3Q467.4,207.9 467.4,213.6M471.8,204.3Q473.4,207.0 476.2,208.5M480.6,199.2Q476.2,202.8 476.2,208.5M480.6,199.2Q482.2,201.9 485.0,203.4M489.4,194.1Q485.0,197.8 485.0,203.4M489.4,194.1Q491.0,196.8 493.8,198.3M498.2,189.1Q493.8,192.7 493.8,198.3M498.2,189.1Q499.8,191.7 502.6,193.3M507.0,184.0Q502.6,187.6 502.6,193.3M507.0,184.0Q508.6,186.6 511.4,188.2M515.8,178.9Q511.4,182.5 511.4,188.2M515.8,178.9Q517.4,181.6 520.2,183.1M524.6,173.8Q520.2,177.4 520.2,183.1M524.6,173.8Q526.2,176.5 529.0,178.0M533.4,168.7Q529.0,172.3 529.0,178.0M533.4,168.7Q535.0,171.4 537.8,172.9M542.2,163.6Q537.8,167.2 537.8,172.9M542.2,163.6Q543.8,166.3 546.6,167.8M551.0,158.5Q546.6,162.2 546.6,167.8M551.0,158.5Q552.6,161.2 555.4,162.7M559.8,153.4Q555.4,157.1 555.4,162.7M559.8,153.4Q561.4,156.1 564.2,157.7" stroke="#1a1a1a" stroke-width="0.75" fill="none" />
<path d="M467.4,186.6h0.01M476.2,181.5h0.01M485.0,176.4h0.01M493.8,171.3h0.01M502.6,166.3h0.01M511.4,161.2h0.01M520.2,156.1h0.01M529.0,151.0h0.01M537.8,145.9h0.01M546.6,140.8h0.01M555.4,135.7h0.01M564.2,130.7h0.01M463.0,195.9h0.01M471.8,190.8h0.01M480.6,185.7h0.01M489.4,180.6h0.01M498.2,175.6h0.01M507.0,170.5h0.01M515.8,165.4h0.01M524.6,160.3h0.01M533.4,155.2h0.01M542.2,150.1h0.01M551.0,145.0h0.01M559.8,139.9h0.01M467.4,200.1h0.01M476.2,195.0h0.01M485.0,189.9h0.01M493.8,184.8h0.01M502.6,179.8h0.01M511.4,174.7h0.01M520.2,169.6h0.01M529.0,164.5h0.01M537.8,159.4h0.01M546.6,154.3h0.01M555.4,149.2h0.01M564.2,144.2h0.01M463.0,209.4h0.01M471.8,204.3h0.01M480.6,199.2h0.01M489.4,194.1h0.01M498.2,189.1h0.01M507.0,184.0h0.01M515.8,178.9h0.01M524.6,173.8h0.01M533.4,168.7h0.01M542.2,163.6h0.01M551.0,158.5h0.01M559.8,153.4h0.01M467.4,213.6h0.01M476.2,208.5h0.01M485.0,203.4h0.01M493.8,198.3h0.01M502.6,193.3h0.01M511.4,188.2h0.01M520.2,183.1h0.01M529.0,178.0h0.01M537.8,172.9h0.01M546.6,167.8h0.01M555.4,162.7h0.01M564.2,157.7h0.01" stroke="#1a1a1a" stroke-width="1.6" fill="none" stroke-linecap="round"/>
</g>
<rect x="467.9" y="190.79999999999998" width="2.9" height="17.30" fill="#fff" stroke="#1a1a1a" stroke-width="0.6"/>
<line x1="469.30" y1="191.20" x2="469.30" y2="207.90" stroke="#bbb" stroke-width="0.8" />
</g>
<defs><clipPath id="b4c"><rect x="319.5" y="63.5" width="65.8" height="97.8"/></clipPath></defs>
<rect x="319.5" y="63.5" width="65.80" height="97.80" fill="#fff"/>
<g clip-path="url(#b4c)">
<path d="M319.5,82.3 L339,70.9 L350.4,73.9 M319.5,91.4 L350.4,74.6" stroke="#1a1a1a" stroke-width="0.8" fill="none" />
<path d="M353.4,63.5 V152.2 L385.3,161.3" stroke="#1a1a1a" stroke-width="0.8" fill="none" />
<path d="M350.4,73.9 V148.3 L328,161.3" stroke="#1a1a1a" stroke-width="0.8" fill="none" />
<line x1="353.40" y1="74.30" x2="385.30" y2="83.00" stroke="#1a1a1a" stroke-width="0.8" />
<path d="M319.5,118.7 L325,115.3 L333.2,117.4 M319.5,124.6 L333.2,117.6 M319.5,134.6 L333.2,127.8" stroke="#1a1a1a" stroke-width="0.8" fill="none" />
<path d="M333.2,109.7 L350.2,100.1 L357.6,101.6 Q361.5,102.4 361.5,106 V110.2 Q361.5,113.4 359.2,113.4 Q357.3,113.4 357.3,111 V108.6 Q357.3,106.6 355.6,106.6 Q354,106.6 354,108.6 V112.6 Q354,115.4 357,115.6 L359.6,115.8 Q361.5,116 361.5,118.6 V121.6 Q361.5,124.6 359.2,124.6 Q357.3,124.6 357.3,122.4 V120 Q357.3,118.2 355.6,118.2 Q354,118.2 354,120 V123.4 Q354,125.6 351.8,125 L350.3,124.6 L350.3,126.8 L338,131.6 Q333.2,133.4 333.2,130 Z" stroke="#1a1a1a" stroke-width="1.0" fill="#fff" />
<line x1="350.30" y1="100.30" x2="350.30" y2="124.60" stroke="#1a1a1a" stroke-width="0.7" />
<path d="M335.9,112.6h0.01 M347.9,107h0.01 M342.8,117.6h0.01 M336.2,129h0.01" stroke="#555" stroke-width="1.3" fill="none" stroke-linecap="round"/>
<ellipse cx="349.60" cy="130.00" rx="5.4" ry="10.2" stroke="#333" stroke-width="0.7" fill="none" />
<ellipse cx="349.60" cy="130.00" rx="4.2" ry="8.8" stroke="#666" stroke-width="0.6" fill="none" />
<path d="M345.2,124 Q349,119.4 354,123.8" stroke="#222" stroke-width="1.5" fill="none" />
<ellipse cx="365.40" cy="113.10" rx="1.1" ry="1.9" stroke="#1a1a1a" stroke-width="0.9" fill="#777" />
<path d="M366.40,112.20 H371.40 M366.40,114.00 H371.40" stroke="#1a1a1a" stroke-width="0.6" fill="none" />
<path d="M370.60,113.10 H373.00" stroke="#1a1a1a" stroke-width="2.0" fill="none" stroke-linecap="round"/>
<path d="M367.60,112.20v1.80" stroke="#1a1a1a" stroke-width="0.6" fill="none" />
<ellipse cx="365.40" cy="124.90" rx="1.1" ry="1.9" stroke="#1a1a1a" stroke-width="0.9" fill="#777" />
<path d="M366.40,124.00 H371.40 M366.40,125.80 H371.40" stroke="#1a1a1a" stroke-width="0.6" fill="none" />
<path d="M370.60,124.90 H373.00" stroke="#1a1a1a" stroke-width="2.0" fill="none" stroke-linecap="round"/>
<path d="M367.60,124.00v1.80" stroke="#1a1a1a" stroke-width="0.6" fill="none" />
<path d="M337.2,139.8 L338.4,133.8 L353.2,128.9" stroke="#111" stroke-width="1.7" fill="none" stroke-linecap="round" stroke-linejoin="round"/>
<path d="M357.60,130.60 L361.00,137.20 L355.00,138.80 Z" stroke="#1a1a1a" stroke-width="0.5" fill="#111" />
<path d="M352.6,140.4 Q355.6,140.6 357.2,137.6" stroke="#1a1a1a" stroke-width="1.2" fill="none" />
<line x1="375.60" y1="101.00" x2="375.60" y2="119.40" stroke="#1a1a1a" stroke-width="0.8" />
<path d="M375.40,119.30 L383.60,119.30 L376.10,136.40 Z" stroke="#1a1a1a" stroke-width="0.5" fill="#111" />
</g>
<line x1="330.60" y1="74.50" x2="334.20" y2="80.40" stroke="#1a1a1a" stroke-width="0.75" />
<circle cx="327.40" cy="70.00" r="5.5" stroke="#1a1a1a" stroke-width="0.75" fill="#fff" />
<text x="327.40" y="72.91" font-size="8.2" text-anchor="middle" font-family="'Liberation Sans', sans-serif" fill="#222" >C</text>
<circle cx="373.30" cy="89.90" r="5.5" stroke="#1a1a1a" stroke-width="0.75" fill="#fff" />
<text x="373.30" y="92.81" font-size="8.2" text-anchor="middle" font-family="'Liberation Sans', sans-serif" fill="#222" >A</text>
<line x1="332.80" y1="146.60" x2="336.80" y2="140.40" stroke="#1a1a1a" stroke-width="0.75" />
<circle cx="329.70" cy="151.00" r="5.5" stroke="#1a1a1a" stroke-width="0.75" fill="#fff" />
<text x="329.70" y="153.84" font-size="8" text-anchor="middle" font-family="'Liberation Serif', serif" fill="#222" textLength="7.2" lengthAdjust="spacingAndGlyphs">15</text>
<rect x="319.5" y="63.5" width="65.8" height="97.8" fill="none" stroke="#444" stroke-width="0.8"/>
<path d="M385.3,99.6 H479 V116 M397.4,99.6 V165" stroke="#1a1a1a" stroke-width="0.9" fill="none" stroke-dasharray="2.8 2.3"/>
<path d="M395,166.6 Q386.5,165.6 384.2,171.5 Q382.6,177.5 387.4,182.4" stroke="#1a1a1a" stroke-width="0.8" fill="none" stroke-dasharray="2.8 2.3"/>
<path d="M488.4,116.4 A11 11 0 0 1 488.6,135.6" stroke="#333" stroke-width="0.7" fill="none" stroke-dasharray="2.8 2.3"/>
<path d="M463,190 Q469.4,185.6 476,189.2" stroke="#1a1a1a" stroke-width="0.8" fill="none" stroke-dasharray="2.8 2.3"/>
<path d="M560.6,156.6 Q563.4,158.2 566.6,157.6" stroke="#333" stroke-width="0.7" fill="none" />
<line x1="535.00" y1="79.20" x2="530.20" y2="87.20" stroke="#1a1a1a" stroke-width="0.75" />
<circle cx="537.40" cy="74.20" r="5.5" stroke="#1a1a1a" stroke-width="0.75" fill="#fff" />
<text x="537.40" y="77.11" font-size="8.2" text-anchor="middle" font-family="'Liberation Sans', sans-serif" fill="#222" >A</text>
<line x1="432.60" y1="133.60" x2="440.20" y2="141.00" stroke="#1a1a1a" stroke-width="0.75" />
<circle cx="429.10" cy="129.50" r="5.5" stroke="#1a1a1a" stroke-width="0.75" fill="#fff" />
<text x="429.10" y="132.41" font-size="8.2" text-anchor="middle" font-family="'Liberation Sans', sans-serif" fill="#222" >C</text>
<line x1="439.40" y1="173.20" x2="435.20" y2="181.60" stroke="#1a1a1a" stroke-width="0.75" />
<circle cx="441.70" cy="168.30" r="5.5" stroke="#1a1a1a" stroke-width="0.75" fill="#fff" />
<text x="441.70" y="171.21" font-size="8.2" text-anchor="middle" font-family="'Liberation Sans', sans-serif" fill="#222" >B</text>
<line x1="502.20" y1="161.30" x2="508.80" y2="168.00" stroke="#1a1a1a" stroke-width="0.75" />
<circle cx="498.80" cy="157.20" r="5.5" stroke="#1a1a1a" stroke-width="0.75" fill="#fff" />
<text x="498.80" y="160.11" font-size="8.2" text-anchor="middle" font-family="'Liberation Sans', sans-serif" fill="#222" >C</text>
<g transform="translate(-282.2 190.4)">
<defs><clipPath id="hbb"><path d="M481.7,117 L481.7,82 Q481.7,75 488,75.2 L566,95.5 Q571.6,96.5 571.6,102 L571.6,134.4 L559.5,137.8 Z"/></clipPath><clipPath id="fbb"><path d="M387.5,172.0 L467.90000000000003,191.6 L467.90000000000003,207.5 L387.5,187.6 Z"/></clipPath><clipPath id="rrb"><path d="M470.6,191.7 L560.2,139.7 L562.3,154.0 L470.4,207.9 Z"/></clipPath></defs>
<path d="M483.10,134.60 C483.10,137.96 484.36,139.64 484.57,142.22 C484.62,143.11 483.67,143.56 484.02,145.02 Q485.40,146.47 486.78,145.02 C487.12,143.56 486.18,143.11 486.23,142.22 C486.44,139.64 487.70,137.96 487.70,134.60 Z" stroke="#2a2a2a" stroke-width="0.7" fill="#fff" />
<path d="M485.40,135.72 L485.40,145.24" stroke="#555" stroke-width="0.5" fill="none" />
<path d="M564.40,150.20 C564.40,154.58 566.16,156.77 566.45,160.13 C566.51,161.30 565.20,161.88 565.68,163.78 Q567.60,165.68 569.52,163.78 C570.00,161.88 568.69,161.30 568.75,160.13 C569.04,156.77 570.80,154.58 570.80,150.20 Z" stroke="#2a2a2a" stroke-width="0.7" fill="#fff" />
<path d="M567.60,151.66 L567.60,164.07" stroke="#555" stroke-width="0.5" fill="none" />
<line x1="409.40" y1="175.40" x2="482.00" y2="134.30" stroke="#1a1a1a" stroke-width="0.7" />
<line x1="483.00" y1="133.40" x2="540.70" y2="149.60" stroke="#1a1a1a" stroke-width="0.7" />
<path d="M481.70,117.00 L559.50,137.80 L559.50,139.50 L540.70,149.60 L483.00,133.40 L481.70,133.40 Z" stroke="#1a1a1a" stroke-width="0.7" fill="#fff" />
<ellipse cx="520" cy="134.9" rx="2.3" ry="0.9" fill="#1a1a1a" transform="rotate(14 520 134.9)"/>
<path d="M493.6,121.6 v1.6 M491.6,126.4 v2 M490.2,130.6 v1.4" stroke="#666" stroke-width="0.6" fill="none" />
<path d="M481.7,134.6 L481.7,82 Q481.7,75 488,75.2 L566,95.5 Q571.6,96.5 571.6,102 L571.6,148.7" stroke="#1a1a1a" stroke-width="0.85" fill="none" />
<path d="M481.7,117 L559.5,137.8 L571.6,134.2" stroke="#1a1a1a" stroke-width="0.75" fill="none" />
<g clip-path="url(#hbb)">
<path d="M483.0,76.4Q479.3,77.4 478.6,81.1M483.0,76.4Q483.2,81.1 487.3,83.4M491.7,78.7Q488.0,79.7 487.3,83.4M491.7,78.7Q491.9,83.4 496.0,85.7M500.4,81.0Q496.7,82.0 496.0,85.7M500.4,81.0Q500.6,85.7 504.7,88.0M509.1,83.3Q505.4,84.3 504.7,88.0M509.1,83.3Q509.3,88.0 513.4,90.3M517.8,85.6Q514.1,86.6 513.4,90.3M517.8,85.6Q518.0,90.3 522.1,92.6M526.5,87.9Q522.8,88.9 522.1,92.6M526.5,87.9Q526.7,92.6 530.8,94.9M535.2,90.2Q531.5,91.2 530.8,94.9M535.2,90.2Q535.4,94.9 539.5,97.2M543.9,92.5Q540.2,93.5 539.5,97.2M543.9,92.5Q544.1,97.2 548.2,99.5M552.6,94.8Q548.9,95.8 548.2,99.5M552.6,94.8Q552.8,99.5 556.9,101.8M561.2,97.1Q557.6,98.1 556.9,101.8M561.2,97.1Q561.5,101.8 565.6,104.2M570.0,99.4Q566.3,100.4 565.6,104.2M570.0,99.4Q570.2,104.1 574.3,106.5M478.6,81.1Q475.0,82.1 474.3,85.8M478.6,81.1Q478.8,85.8 483.0,88.2M487.3,83.4Q483.7,84.4 483.0,88.2M487.3,83.4Q487.5,88.1 491.7,90.5M496.0,85.7Q492.4,86.7 491.7,90.5M496.0,85.7Q496.2,90.4 500.4,92.8M504.7,88.0Q501.1,89.0 500.4,92.8M504.7,88.0Q504.9,92.8 509.1,95.1M513.4,90.3Q509.8,91.3 509.1,95.1M513.4,90.3Q513.6,95.1 517.8,97.4M522.1,92.6Q518.5,93.6 517.8,97.4M522.1,92.6Q522.3,97.4 526.5,99.7M530.8,94.9Q527.2,96.0 526.5,99.7M530.8,94.9Q531.0,99.7 535.2,102.0M539.5,97.2Q535.9,98.3 535.2,102.0M539.5,97.2Q539.7,102.0 543.9,104.3M548.2,99.5Q544.6,100.6 543.9,104.3M548.2,99.5Q548.4,104.3 552.6,106.6M556.9,101.8Q553.3,102.9 552.6,106.6M556.9,101.8Q557.1,106.6 561.2,108.9M565.6,104.2Q562.0,105.2 561.2,108.9M565.6,104.2Q565.8,108.9 570.0,111.2M483.0,88.2Q479.3,89.2 478.6,92.9M483.0,88.2Q483.2,92.9 487.3,95.2M491.7,90.5Q488.0,91.5 487.3,95.2M491.7,90.5Q491.9,95.2 496.0,97.5M500.4,92.8Q496.7,93.8 496.0,97.5M500.4,92.8Q500.6,97.5 504.7,99.8M509.1,95.1Q505.4,96.1 504.7,99.8M509.1,95.1Q509.3,99.8 513.4,102.1M517.8,97.4Q514.1,98.4 513.4,102.1M517.8,97.4Q518.0,102.1 522.1,104.4M526.5,99.7Q522.8,100.7 522.1,104.4M526.5,99.7Q526.7,104.4 530.8,106.7M535.2,102.0Q531.5,103.0 530.8,106.7M535.2,102.0Q535.4,106.7 539.5,109.0M543.9,104.3Q540.2,105.3 539.5,109.0M543.9,104.3Q544.1,109.0 548.2,111.3M552.6,106.6Q548.9,107.6 548.2,111.3M552.6,106.6Q552.8,111.3 556.9,113.6M561.2,108.9Q557.6,109.9 556.9,113.6M561.2,108.9Q561.5,113.6 565.6,116.0M570.0,111.2Q566.3,112.2 565.6,116.0M570.0,111.2Q570.2,115.9 574.3,118.3M478.6,92.9Q475.0,93.9 474.3,97.6M478.6,92.9Q478.8,97.6 483.0,100.0M487.3,95.2Q483.7,96.2 483.0,100.0M487.3,95.2Q487.5,99.9 491.7,102.3M496.0,97.5Q492.4,98.5 491.7,102.3M496.0,97.5Q496.2,102.2 500.4,104.6M504.7,99.8Q501.1,100.8 500.4,104.6M504.7,99.8Q504.9,104.6 509.1,106.9M513.4,102.1Q509.8,103.1 509.1,106.9M513.4,102.1Q513.6,106.9 517.8,109.2M522.1,104.4Q518.5,105.4 517.8,109.2M522.1,104.4Q522.3,109.2 526.5,111.5M530.8,106.7Q527.2,107.8 526.5,111.5M530.8,106.7Q531.0,111.5 535.2,113.8M539.5,109.0Q535.9,110.1 535.2,113.8M539.5,109.0Q539.7,113.8 543.9,116.1M548.2,111.3Q544.6,112.4 543.9,116.1M548.2,111.3Q548.4,116.1 552.6,118.4M556.9,113.6Q553.3,114.7 552.6,118.4M556.9,113.6Q557.1,118.4 561.2,120.7M565.6,116.0Q562.0,117.0 561.2,120.7M565.6,116.0Q565.8,120.7 570.0,123.0M483.0,100.0Q479.3,101.0 478.6,104.7M483.0,100.0Q483.2,104.7 487.3,107.0M491.7,102.3Q488.0,103.3 487.3,107.0M491.7,102.3Q491.9,107.0 496.0,109.3M500.4,104.6Q496.7,105.6 496.0,109.3M500.4,104.6Q500.6,109.3 504.7,111.6M509.1,106.9Q505.4,107.9 504.7,111.6M509.1,106.9Q509.3,111.6 513.4,113.9M517.8,109.2Q514.1,110.2 513.4,113.9M517.8,109.2Q518.0,113.9 522.1,116.2M526.5,111.5Q522.8,112.5 522.1,116.2M526.5,111.5Q526.7,116.2 530.8,118.5M535.2,113.8Q531.5,114.8 530.8,118.5M535.2,113.8Q535.4,118.5 539.5,120.8M543.9,116.1Q540.2,117.1 539.5,120.8M543.9,116.1Q544.1,120.8 548.2,123.1M552.6,118.4Q548.9,119.4 548.2,123.1M552.6,118.4Q552.8,123.1 556.9,125.4M561.2,120.7Q557.6,121.7 556.9,125.4M561.2,120.7Q561.5,125.4 565.6,127.8M570.0,123.0Q566.3,124.0 565.6,127.8M570.0,123.0Q570.2,127.7 574.3,130.1M478.6,104.7Q475.0,105.7 474.3,109.4M478.6,104.7Q478.8,109.4 483.0,111.8M487.3,107.0Q483.7,108.0 483.0,111.8M487.3,107.0Q487.5,111.7 491.7,114.1M496.0,109.3Q492.4,110.3 491.7,114.1M496.0,109.3Q496.2,114.0 500.4,116.4M504.7,111.6Q501.1,112.6 500.4,116.4M504.7,111.6Q504.9,116.4 509.1,118.7M513.4,113.9Q509.8,114.9 509.1,118.7M513.4,113.9Q513.6,118.7 517.8,121.0M522.1,116.2Q518.5,117.2 517.8,121.0M522.1,116.2Q522.3,121.0 526.5,123.3M530.8,118.5Q527.2,119.6 526.5,123.3M530.8,118.5Q531.0,123.3 535.2,125.6M539.5,120.8Q535.9,121.9 535.2,125.6M539.5,120.8Q539.7,125.6 543.9,127.9M548.2,123.1Q544.6,124.2 543.9,127.9M548.2,123.1Q548.4,127.9 552.6,130.2M556.9,125.4Q553.3,126.5 552.6,130.2M556.9,125.4Q557.1,130.2 561.2,132.5M565.6,127.8Q562.0,128.8 561.2,132.5M565.6,127.8Q565.8,132.5 570.0,134.8M483.0,111.8Q479.3,112.8 478.6,116.5M483.0,111.8Q483.2,116.5 487.3,118.8M491.7,114.1Q488.0,115.1 487.3,118.8M491.7,114.1Q491.9,118.8 496.0,121.1M500.4,116.4Q496.7,117.4 496.0,121.1M500.4,116.4Q500.6,121.1 504.7,123.4M509.1,118.7Q505.4,119.7 504.7,123.4M509.1,118.7Q509.3,123.4 513.4,125.7M517.8,121.0Q514.1,122.0 513.4,125.7M517.8,121.0Q518.0,125.7 522.1,128.0M526.5,123.3Q522.8,124.3 522.1,128.0M526.5,123.3Q526.7,128.0 530.8,130.3M535.2,125.6Q531.5,126.6 530.8,130.3M535.2,125.6Q535.4,130.3 539.5,132.6M543.9,127.9Q540.2,128.9 539.5,132.6M543.9,127.9Q544.1,132.6 548.2,134.9M552.6,130.2Q548.9,131.2 548.2,134.9M552.6,130.2Q552.8,134.9 556.9,137.2M561.2,132.5Q557.6,133.5 556.9,137.2M561.2,132.5Q561.5,137.2 565.6,139.6M570.0,134.8Q566.3,135.8 565.6,139.6M570.0,134.8Q570.2,139.5 574.3,141.9M478.6,116.5Q475.0,117.5 474.3,121.2M478.6,116.5Q478.8,121.2 483.0,123.6M487.3,118.8Q483.7,119.8 483.0,123.6M487.3,118.8Q487.5,123.5 491.7,125.9M496.0,121.1Q492.4,122.1 491.7,125.9M496.0,121.1Q496.2,125.8 500.4,128.2M504.7,123.4Q501.1,124.4 500.4,128.2M504.7,123.4Q504.9,128.2 509.1,130.5M513.4,125.7Q509.8,126.7 509.1,130.5M513.4,125.7Q513.6,130.5 517.8,132.8M522.1,128.0Q518.5,129.0 517.8,132.8M522.1,128.0Q522.3,132.8 526.5,135.1M530.8,130.3Q527.2,131.4 526.5,135.1M530.8,130.3Q531.0,135.1 535.2,137.4M539.5,132.6Q535.9,133.7 535.2,137.4M539.5,132.6Q539.7,137.4 543.9,139.7M548.2,134.9Q544.6,136.0 543.9,139.7M548.2,134.9Q548.4,139.7 552.6,142.0M556.9,137.2Q553.3,138.3 552.6,142.0M556.9,137.2Q557.1,142.0 561.2,144.3M565.6,139.6Q562.0,140.6 561.2,144.3M565.6,139.6Q565.8,144.3 570.0,146.6M483.0,123.6Q479.3,124.6 478.6,128.3M483.0,123.6Q483.2,128.3 487.3,130.6M491.7,125.9Q488.0,126.9 487.3,130.6M491.7,125.9Q491.9,130.6 496.0,132.9M500.4,128.2Q496.7,129.2 496.0,132.9M500.4,128.2Q500.6,132.9 504.7,135.2M509.1,130.5Q505.4,131.5 504.7,135.2M509.1,130.5Q509.3,135.2 513.4,137.5M517.8,132.8Q514.1,133.8 513.4,137.5M517.8,132.8Q518.0,137.5 522.1,139.8M526.5,135.1Q522.8,136.1 522.1,139.8M526.5,135.1Q526.7,139.8 530.8,142.1M535.2,137.4Q531.5,138.4 530.8,142.1M535.2,137.4Q535.4,142.1 539.5,144.4M543.9,139.7Q540.2,140.7 539.5,144.4M543.9,139.7Q544.1,144.4 548.2,146.7M552.6,142.0Q548.9,143.0 548.2,146.7M552.6,142.0Q552.8,146.7 556.9,149.0M561.2,144.3Q557.6,145.3 556.9,149.0M561.2,144.3Q561.5,149.0 565.6,151.4M570.0,146.6Q566.3,147.6 565.6,151.4M570.0,146.6Q570.2,151.3 574.3,153.7" stroke="#1a1a1a" stroke-width="0.75" fill="none" />
<path d="M483.0,76.4h0.01M491.7,78.7h0.01M500.4,81.0h0.01M509.1,83.3h0.01M517.8,85.6h0.01M526.5,87.9h0.01M535.2,90.2h0.01M543.9,92.5h0.01M552.6,94.8h0.01M561.2,97.1h0.01M570.0,99.4h0.01M478.6,81.1h0.01M487.3,83.4h0.01M496.0,85.7h0.01M504.7,88.0h0.01M513.4,90.3h0.01M522.1,92.6h0.01M530.8,94.9h0.01M539.5,97.2h0.01M548.2,99.5h0.01M556.9,101.8h0.01M565.6,104.2h0.01M483.0,88.2h0.01M491.7,90.5h0.01M500.4,92.8h0.01M509.1,95.1h0.01M517.8,97.4h0.01M526.5,99.7h0.01M535.2,102.0h0.01M543.9,104.3h0.01M552.6,106.6h0.01M561.2,108.9h0.01M570.0,111.2h0.01M478.6,92.9h0.01M487.3,95.2h0.01M496.0,97.5h0.01M504.7,99.8h0.01M513.4,102.1h0.01M522.1,104.4h0.01M530.8,106.7h0.01M539.5,109.0h0.01M548.2,111.3h0.01M556.9,113.6h0.01M565.6,116.0h0.01M483.0,100.0h0.01M491.7,102.3h0.01M500.4,104.6h0.01M509.1,106.9h0.01M517.8,109.2h0.01M526.5,111.5h0.01M535.2,113.8h0.01M543.9,116.1h0.01M552.6,118.4h0.01M561.2,120.7h0.01M570.0,123.0h0.01M478.6,104.7h0.01M487.3,107.0h0.01M496.0,109.3h0.01M504.7,111.6h0.01M513.4,113.9h0.01M522.1,116.2h0.01M530.8,118.5h0.01M539.5,120.8h0.01M548.2,123.1h0.01M556.9,125.4h0.01M565.6,127.8h0.01M483.0,111.8h0.01M491.7,114.1h0.01M500.4,116.4h0.01M509.1,118.7h0.01M517.8,121.0h0.01M526.5,123.3h0.01M535.2,125.6h0.01M543.9,127.9h0.01M552.6,130.2h0.01M561.2,132.5h0.01M570.0,134.8h0.01M478.6,116.5h0.01M487.3,118.8h0.01M496.0,121.1h0.01M504.7,123.4h0.01M513.4,125.7h0.01M522.1,128.0h0.01M530.8,130.3h0.01M539.5,132.6h0.01M548.2,134.9h0.01M556.9,137.2h0.01M565.6,139.6h0.01M483.0,123.6h0.01M491.7,125.9h0.01M500.4,128.2h0.01M509.1,130.5h0.01M517.8,132.8h0.01M526.5,135.1h0.01M535.2,137.4h0.01M543.9,139.7h0.01M552.6,142.0h0.01M561.2,144.3h0.01M570.0,146.6h0.01M478.6,128.3h0.01M487.3,130.6h0.01M496.0,132.9h0.01M504.7,135.2h0.01M513.4,137.5h0.01M522.1,139.8h0.01M530.8,142.1h0.01M539.5,144.4h0.01M548.2,146.7h0.01M556.9,149.0h0.01M565.6,151.4h0.01" stroke="#1a1a1a" stroke-width="1.6" fill="none" stroke-linecap="round"/>
</g>
<path d="M559.6,93.9 L566,95.5 Q571.6,96.5 571.6,102 L571.6,134.2 L561.2,137.6 L561.3,110 Q560.6,103 562,99 Z" fill="#fff" stroke="none"/>
<path d="M562,110.4 C560.6,104 564.4,98.4 571,97.9 M561.3,121.5 C560.4,115.4 565,110.6 571.6,110.4 M561.3,134.1 C560.4,128 565,123.2 571.6,123 M561.3,137.4 Q561.6,135.6 564.4,134.6" stroke="#1a1a1a" stroke-width="0.8" fill="none" />
<path d="M565.2,96.6 l2.2,2.6 M567.8,96.8 l-2.6,2.2" stroke="#1a1a1a" stroke-width="0.5" fill="none" />
<path d="M571.6,134.2 L571.6,148.7 L567,150.5 M562.3,139 L562.3,154" stroke="#1a1a1a" stroke-width="0.75" fill="none" />
<path d="M564.4,142.2 l1.6,2.4" stroke="#555" stroke-width="0.6" fill="none" />
<path d="M387.50,170.20 L481.70,117.40 L481.70,119.60 L391.50,171.40 Z" stroke="#666" stroke-width="0.4" fill="#d6d6d6" />
<line x1="387.50" y1="170.20" x2="481.70" y2="117.40" stroke="#1a1a1a" stroke-width="0.7" />
<line x1="389.50" y1="170.60" x2="481.70" y2="118.50" stroke="#777" stroke-width="0.4" stroke-dasharray="5 1.2"/>
<line x1="392.00" y1="171.40" x2="481.70" y2="120.40" stroke="#1a1a1a" stroke-width="1.0" />
<line x1="396.00" y1="172.40" x2="479.60" y2="124.20" stroke="#1a1a1a" stroke-width="0.7" />
<line x1="399.50" y1="173.30" x2="479.60" y2="126.60" stroke="#1a1a1a" stroke-width="0.6" />
<line x1="479.60" y1="123.60" x2="479.60" y2="127.40" stroke="#1a1a1a" stroke-width="0.7" />
<line x1="483.40" y1="118.00" x2="483.40" y2="133.40" stroke="#444" stroke-width="0.6" />
<rect x="483.3" y="123.6" width="2.4" height="4.6" fill="#1a1a1a"/>
<rect x="481.4" y="123" width="4.6" height="5.8" fill="none" stroke="#1a1a1a" stroke-width="0.5"/>
<path d="M390.10,187.80 C390.10,191.70 391.64,193.65 391.89,196.64 C391.95,197.68 390.80,198.20 391.22,199.89 Q392.90,201.58 394.58,199.89 C395.00,198.20 393.85,197.68 393.91,196.64 C394.16,193.65 395.70,191.70 395.70,187.80 Z" stroke="#2a2a2a" stroke-width="0.7" fill="#fff" />
<path d="M392.90,189.10 L392.90,200.15" stroke="#555" stroke-width="0.5" fill="none" />
<path d="M464.00,207.60 C464.00,211.80 466.25,213.90 466.62,217.12 C466.71,218.24 465.03,218.80 465.64,220.62 Q468.10,222.44 470.56,220.62 C471.18,218.80 469.49,218.24 469.58,217.12 C469.95,213.90 472.20,211.80 472.20,207.60 Z" stroke="#2a2a2a" stroke-width="0.7" fill="#fff" />
<path d="M468.10,209.00 L468.10,220.90" stroke="#555" stroke-width="0.5" fill="none" />
<path d="M387.50,170.20 L469.80,190.20 L470.40,207.90 L387.50,187.60 Z" stroke="#1a1a1a" stroke-width="0.85" fill="#fff" />
<line x1="387.50" y1="172.00" x2="467.90" y2="191.60" stroke="#1a1a1a" stroke-width="0.6" />
<line x1="392.00" y1="169.20" x2="472.50" y2="189.00" stroke="#444" stroke-width="0.5" />
<g clip-path="url(#fbb)">
<path d="M389.3,168.3Q385.7,169.5 385.1,173.3M389.3,168.3Q389.5,173.0 393.6,175.4M397.8,170.4Q394.1,171.6 393.6,175.4M397.8,170.4Q397.9,175.2 402.0,177.6M406.2,172.6Q402.6,173.8 402.0,177.6M406.2,172.6Q406.4,177.3 410.5,179.7M414.7,174.7Q411.0,175.9 410.5,179.7M414.7,174.7Q414.8,179.4 418.9,181.8M423.1,176.8Q419.5,178.0 418.9,181.8M423.1,176.8Q423.3,181.6 427.4,183.9M431.6,179.0Q427.9,180.2 427.4,183.9M431.6,179.0Q431.7,183.7 435.8,186.1M440.0,181.1Q436.4,182.3 435.8,186.1M440.0,181.1Q440.2,185.8 444.2,188.2M448.5,183.2Q444.8,184.4 444.2,188.2M448.5,183.2Q448.6,188.0 452.7,190.3M456.9,185.3Q453.3,186.5 452.7,190.3M456.9,185.3Q457.1,190.1 461.2,192.5M465.4,187.5Q461.7,188.7 461.2,192.5M465.4,187.5Q465.5,192.2 469.6,194.6M473.8,189.6Q470.2,190.8 469.6,194.6M473.8,189.6Q474.0,194.3 478.1,196.7M385.1,173.3Q381.5,174.5 380.9,178.3M385.1,173.3Q385.2,178.0 389.3,180.4M393.6,175.4Q389.9,176.6 389.3,180.4M393.6,175.4Q393.7,180.2 397.8,182.5M402.0,177.6Q398.4,178.8 397.8,182.5M402.0,177.6Q402.1,182.3 406.2,184.7M410.5,179.7Q406.8,180.9 406.2,184.7M410.5,179.7Q410.6,184.4 414.7,186.8M418.9,181.8Q415.3,183.0 414.7,186.8M418.9,181.8Q419.0,186.5 423.1,188.9M427.4,183.9Q423.7,185.1 423.1,188.9M427.4,183.9Q427.5,188.7 431.6,191.1M435.8,186.1Q432.2,187.3 431.6,191.1M435.8,186.1Q435.9,190.8 440.0,193.2M444.2,188.2Q440.6,189.4 440.0,193.2M444.2,188.2Q444.4,192.9 448.5,195.3M452.7,190.3Q449.1,191.5 448.5,195.3M452.7,190.3Q452.8,195.1 456.9,197.4M461.2,192.5Q457.5,193.7 456.9,197.4M461.2,192.5Q461.3,197.2 465.4,199.6M469.6,194.6Q466.0,195.8 465.4,199.6M469.6,194.6Q469.7,199.3 473.8,201.7M389.3,180.4Q385.7,181.6 385.1,185.4M389.3,180.4Q389.5,185.1 393.6,187.5M397.8,182.5Q394.1,183.7 393.6,187.5M397.8,182.5Q397.9,187.3 402.0,189.7M406.2,184.7Q402.6,185.9 402.0,189.7M406.2,184.7Q406.4,189.4 410.5,191.8M414.7,186.8Q411.0,188.0 410.5,191.8M414.7,186.8Q414.8,191.5 418.9,193.9M423.1,188.9Q419.5,190.1 418.9,193.9M423.1,188.9Q423.3,193.7 427.4,196.0M431.6,191.1Q427.9,192.3 427.4,196.0M431.6,191.1Q431.7,195.8 435.8,198.2M440.0,193.2Q436.4,194.4 435.8,198.2M440.0,193.2Q440.2,197.9 444.2,200.3M448.5,195.3Q444.8,196.5 444.2,200.3M448.5,195.3Q448.6,200.1 452.7,202.4M456.9,197.4Q453.3,198.6 452.7,202.4M456.9,197.4Q457.1,202.2 461.2,204.6M465.4,199.6Q461.7,200.8 461.2,204.6M465.4,199.6Q465.5,204.3 469.6,206.7M473.8,201.7Q470.2,202.9 469.6,206.7M473.8,201.7Q474.0,206.4 478.1,208.8M385.1,185.4Q381.5,186.6 380.9,190.4M385.1,185.4Q385.2,190.1 389.3,192.5M393.6,187.5Q389.9,188.7 389.3,192.5M393.6,187.5Q393.7,192.3 397.8,194.6M402.0,189.7Q398.4,190.9 397.8,194.6M402.0,189.7Q402.1,194.4 406.2,196.8M410.5,191.8Q406.8,193.0 406.2,196.8M410.5,191.8Q410.6,196.5 414.7,198.9M418.9,193.9Q415.3,195.1 414.7,198.9M418.9,193.9Q419.0,198.6 423.1,201.0M427.4,196.0Q423.7,197.2 423.1,201.0M427.4,196.0Q427.5,200.8 431.6,203.2M435.8,198.2Q432.2,199.4 431.6,203.2M435.8,198.2Q435.9,202.9 440.0,205.3M444.2,200.3Q440.6,201.5 440.0,205.3M444.2,200.3Q444.4,205.0 448.5,207.4M452.7,202.4Q449.1,203.6 448.5,207.4M452.7,202.4Q452.8,207.2 456.9,209.5M461.2,204.6Q457.5,205.8 456.9,209.5M461.2,204.6Q461.3,209.3 465.4,211.7M469.6,206.7Q466.0,207.9 465.4,211.7M469.6,206.7Q469.7,211.4 473.8,213.8" stroke="#1a1a1a" stroke-width="0.75" fill="none" />
<path d="M389.3,168.3h0.01M397.8,170.4h0.01M406.2,172.6h0.01M414.7,174.7h0.01M423.1,176.8h0.01M431.6,179.0h0.01M440.0,181.1h0.01M448.5,183.2h0.01M456.9,185.3h0.01M465.4,187.5h0.01M473.8,189.6h0.01M385.1,173.3h0.01M393.6,175.4h0.01M402.0,177.6h0.01M410.5,179.7h0.01M418.9,181.8h0.01M427.4,183.9h0.01M435.8,186.1h0.01M444.2,188.2h0.01M452.7,190.3h0.01M461.2,192.5h0.01M469.6,194.6h0.01M389.3,180.4h0.01M397.8,182.5h0.01M406.2,184.7h0.01M414.7,186.8h0.01M423.1,188.9h0.01M431.6,191.1h0.01M440.0,193.2h0.01M448.5,195.3h0.01M456.9,197.4h0.01M465.4,199.6h0.01M473.8,201.7h0.01M385.1,185.4h0.01M393.6,187.5h0.01M402.0,189.7h0.01M410.5,191.8h0.01M418.9,193.9h0.01M427.4,196.0h0.01M435.8,198.2h0.01M444.2,200.3h0.01M452.7,202.4h0.01M461.2,204.6h0.01M469.6,206.7h0.01M389.3,192.5h0.01M397.8,194.6h0.01M406.2,196.8h0.01M414.7,198.9h0.01M423.1,201.0h0.01M431.6,203.2h0.01M440.0,205.3h0.01M448.5,207.4h0.01M456.9,209.5h0.01M465.4,211.7h0.01M473.8,213.8h0.01" stroke="#1a1a1a" stroke-width="1.6" fill="none" stroke-linecap="round"/>
</g>
<path d="M469.80,190.20 L559.60,137.70 L562.30,154.00 L470.40,207.90 Z" stroke="#1a1a1a" stroke-width="0.85" fill="#fff" />
<line x1="470.60" y1="191.70" x2="560.20" y2="139.70" stroke="#1a1a1a" stroke-width="0.6" />
<line x1="472.50" y1="189.00" x2="558.60" y2="137.60" stroke="#444" stroke-width="0.5" />
<g clip-path="url(#rrb)">
<path d="M467.4,186.6Q463.0,190.2 463.0,195.9M467.4,186.6Q469.0,189.3 471.8,190.8M476.2,181.5Q471.8,185.1 471.8,190.8M476.2,181.5Q477.8,184.2 480.6,185.7M485.0,176.4Q480.6,180.1 480.6,185.7M485.0,176.4Q486.6,179.1 489.4,180.6M493.8,171.3Q489.4,175.0 489.4,180.6M493.8,171.3Q495.4,174.0 498.2,175.6M502.6,166.3Q498.2,169.9 498.2,175.6M502.6,166.3Q504.2,168.9 507.0,170.5M511.4,161.2Q507.0,164.8 507.0,170.5M511.4,161.2Q513.0,163.9 515.8,165.4M520.2,156.1Q515.8,159.7 515.8,165.4M520.2,156.1Q521.8,158.8 524.6,160.3M529.0,151.0Q524.6,154.6 524.6,160.3M529.0,151.0Q530.6,153.7 533.4,155.2M537.8,145.9Q533.4,149.5 533.4,155.2M537.8,145.9Q539.4,148.6 542.2,150.1M546.6,140.8Q542.2,144.4 542.2,150.1M546.6,140.8Q548.2,143.5 551.0,145.0M555.4,135.7Q551.0,139.4 551.0,145.0M555.4,135.7Q557.0,138.4 559.8,139.9M564.2,130.7Q559.8,134.3 559.8,139.9M564.2,130.7Q565.8,133.3 568.6,134.9M463.0,195.9Q458.6,199.5 458.6,205.2M463.0,195.9Q464.6,198.6 467.4,200.1M471.8,190.8Q467.4,194.4 467.4,200.1M471.8,190.8Q473.4,193.5 476.2,195.0M480.6,185.7Q476.2,189.3 476.2,195.0M480.6,185.7Q482.2,188.4 485.0,189.9M489.4,180.6Q485.0,184.3 485.0,189.9M489.4,180.6Q491.0,183.3 493.8,184.8M498.2,175.6Q493.8,179.2 493.8,184.8M498.2,175.6Q499.8,178.2 502.6,179.8M507.0,170.5Q502.6,174.1 502.6,179.8M507.0,170.5Q508.6,173.1 511.4,174.7M515.8,165.4Q511.4,169.0 511.4,174.7M515.8,165.4Q517.4,168.1 520.2,169.6M524.6,160.3Q520.2,163.9 520.2,169.6M524.6,160.3Q526.2,163.0 529.0,164.5M533.4,155.2Q529.0,158.8 529.0,164.5M533.4,155.2Q535.0,157.9 537.8,159.4M542.2,150.1Q537.8,153.7 537.8,159.4M542.2,150.1Q543.8,152.8 546.6,154.3M551.0,145.0Q546.6,148.7 546.6,154.3M551.0,145.0Q552.6,147.7 555.4,149.2M559.8,139.9Q555.4,143.6 555.4,149.2M559.8,139.9Q561.4,142.6 564.2,144.2M467.4,200.1Q463.0,203.7 463.0,209.4M467.4,200.1Q469.0,202.8 471.8,204.3M476.2,195.0Q471.8,198.6 471.8,204.3M476.2,195.0Q477.8,197.7 480.6,199.2M485.0,189.9Q480.6,193.6 480.6,199.2M485.0,189.9Q486.6,192.6 489.4,194.1M493.8,184.8Q489.4,188.5 489.4,194.1M493.8,184.8Q495.4,187.5 498.2,189.1M502.6,179.8Q498.2,183.4 498.2,189.1M502.6,179.8Q504.2,182.4 507.0,184.0M511.4,174.7Q507.0,178.3 507.0,184.0M511.4,174.7Q513.0,177.4 515.8,178.9M520.2,169.6Q515.8,173.2 515.8,178.9M520.2,169.6Q521.8,172.3 524.6,173.8M529.0,164.5Q524.6,168.1 524.6,173.8M529.0,164.5Q530.6,167.2 533.4,168.7M537.8,159.4Q533.4,163.0 533.4,168.7M537.8,159.4Q539.4,162.1 542.2,163.6M546.6,154.3Q542.2,157.9 542.2,163.6M546.6,154.3Q548.2,157.0 551.0,158.5M555.4,149.2Q551.0,152.9 551.0,158.5M555.4,149.2Q557.0,151.9 559.8,153.4M564.2,144.2Q559.8,147.8 559.8,153.4M564.2,144.2Q565.8,146.8 568.6,148.4M463.0,209.4Q458.6,213.0 458.6,218.7M463.0,209.4Q464.6,212.1 467.4,213.6M471.8,204.3Q467.4,207.9 467.4,213.6M471.8,204.3Q473.4,207.0 476.2,208.5M480.6,199.2Q476.2,202.8 476.2,208.5M480.6,199.2Q482.2,201.9 485.0,203.4M489.4,194.1Q485.0,197.8 485.0,203.4M489.4,194.1Q491.0,196.8 493.8,198.3M498.2,189.1Q493.8,192.7 493.8,198.3M498.2,189.1Q499.8,191.7 502.6,193.3M507.0,184.0Q502.6,187.6 502.6,193.3M507.0,184.0Q508.6,186.6 511.4,188.2M515.8,178.9Q511.4,182.5 511.4,188.2M515.8,178.9Q517.4,181.6 520.2,183.1M524.6,173.8Q520.2,177.4 520.2,183.1M524.6,173.8Q526.2,176.5 529.0,178.0M533.4,168.7Q529.0,172.3 529.0,178.0M533.4,168.7Q535.0,171.4 537.8,172.9M542.2,163.6Q537.8,167.2 537.8,172.9M542.2,163.6Q543.8,166.3 546.6,167.8M551.0,158.5Q546.6,162.2 546.6,167.8M551.0,158.5Q552.6,161.2 555.4,162.7M559.8,153.4Q555.4,157.1 555.4,162.7M559.8,153.4Q561.4,156.1 564.2,157.7" stroke="#1a1a1a" stroke-width="0.75" fill="none" />
<path d="M467.4,186.6h0.01M476.2,181.5h0.01M485.0,176.4h0.01M493.8,171.3h0.01M502.6,166.3h0.01M511.4,161.2h0.01M520.2,156.1h0.01M529.0,151.0h0.01M537.8,145.9h0.01M546.6,140.8h0.01M555.4,135.7h0.01M564.2,130.7h0.01M463.0,195.9h0.01M471.8,190.8h0.01M480.6,185.7h0.01M489.4,180.6h0.01M498.2,175.6h0.01M507.0,170.5h0.01M515.8,165.4h0.01M524.6,160.3h0.01M533.4,155.2h0.01M542.2,150.1h0.01M551.0,145.0h0.01M559.8,139.9h0.01M467.4,200.1h0.01M476.2,195.0h0.01M485.0,189.9h0.01M493.8,184.8h0.01M502.6,179.8h0.01M511.4,174.7h0.01M520.2,169.6h0.01M529.0,164.5h0.01M537.8,159.4h0.01M546.6,154.3h0.01M555.4,149.2h0.01M564.2,144.2h0.01M463.0,209.4h0.01M471.8,204.3h0.01M480.6,199.2h0.01M489.4,194.1h0.01M498.2,189.1h0.01M507.0,184.0h0.01M515.8,178.9h0.01M524.6,173.8h0.01M533.4,168.7h0.01M542.2,163.6h0.01M551.0,158.5h0.01M559.8,153.4h0.01M467.4,213.6h0.01M476.2,208.5h0.01M485.0,203.4h0.01M493.8,198.3h0.01M502.6,193.3h0.01M511.4,188.2h0.01M520.2,183.1h0.01M529.0,178.0h0.01M537.8,172.9h0.01M546.6,167.8h0.01M555.4,162.7h0.01M564.2,157.7h0.01" stroke="#1a1a1a" stroke-width="1.6" fill="none" stroke-linecap="round"/>
</g>
<rect x="467.9" y="190.79999999999998" width="2.9" height="17.30" fill="#fff" stroke="#1a1a1a" stroke-width="0.6"/>
<line x1="469.30" y1="191.20" x2="469.30" y2="207.90" stroke="#bbb" stroke-width="0.8" />
</g>
<defs><clipPath id="b51c"><rect x="42.9" y="253.8" width="44.20" height="63.40"/></clipPath></defs>
<rect x="42.9" y="253.8" width="44.20" height="63.40" fill="#fff"/>
<g clip-path="url(#b51c)">
<line x1="61.00" y1="253.80" x2="61.00" y2="283.00" stroke="#1a1a1a" stroke-width="0.8" />
<line x1="67.30" y1="253.80" x2="67.30" y2="281.00" stroke="#1a1a1a" stroke-width="0.8" />
<line x1="67.30" y1="255.40" x2="87.10" y2="261.00" stroke="#1a1a1a" stroke-width="0.8" />
<line x1="81.20" y1="259.40" x2="81.20" y2="284.00" stroke="#1a1a1a" stroke-width="0.7" />
<path d="M42.9,264.8 L49.6,262.7 L50.2,263 V272.6 L42.9,275.2" stroke="#1a1a1a" stroke-width="0.8" fill="none" />
<circle cx="46.30" cy="260.10" r="3.2" stroke="#1a1a1a" stroke-width="0.7" fill="#fff" />
<line x1="42.90" y1="287.80" x2="60.60" y2="282.80" stroke="#1a1a1a" stroke-width="0.8" />
<path d="M53.40,259.60 L60.00,257.60 L60.00,271.20 L53.40,272.60 Z" stroke="#1a1a1a" stroke-width="0.8" fill="#fff" />
<path d="M60.00,257.60 L65.54,258.30 Q66.60,258.60 66.60,260.00 V270.00 Q66.60,271.40 65.28,271.30 L60.00,271.20" stroke="#1a1a1a" stroke-width="0.8" fill="#fff" />
<path d="M62.90,260.40 v3.2 M64.75,260.40 v3.2 M62.90,265.60 v3.2 M64.75,265.60 v3.2" stroke="#444" stroke-width="0.7" fill="none" />
<path d="M62.90,260.40 q0.9,-1.2 1.8,0 M62.90,265.60 q0.9,-1.2 1.8,0" stroke="#444" stroke-width="0.6" fill="none" />
<path d="M55.00,261.40h0.01 M55.00,269.60h0.01 M58.94,260.00h0.01 M58.94,269.00h0.01 M56.96,265.00h0.01" stroke="#444" stroke-width="1.0" fill="none" stroke-linecap="round"/>
<ellipse cx="69.40" cy="266.10" rx="0.935" ry="1.615" stroke="#1a1a1a" stroke-width="0.9" fill="#777" />
<path d="M70.40,265.34 H74.00 M70.40,266.87 H74.00" stroke="#1a1a1a" stroke-width="0.6" fill="none" />
<path d="M73.20,266.10 H75.60" stroke="#1a1a1a" stroke-width="1.7" fill="none" stroke-linecap="round"/>
<path d="M71.60,265.34v1.53" stroke="#1a1a1a" stroke-width="0.6" fill="none" />
<ellipse cx="69.40" cy="273.40" rx="0.935" ry="1.615" stroke="#1a1a1a" stroke-width="0.9" fill="#777" />
<path d="M70.40,272.63 H74.00 M70.40,274.16 H74.00" stroke="#1a1a1a" stroke-width="0.6" fill="none" />
<path d="M73.20,273.40 H75.60" stroke="#1a1a1a" stroke-width="1.7" fill="none" stroke-linecap="round"/>
<path d="M71.60,272.63v1.53" stroke="#1a1a1a" stroke-width="0.6" fill="none" />
<path d="M63.00,291.40 C63.60,299.66 67.10,302.24 68.50,308.43 C69.10,312.04 67.90,314.62 66.90,317.20" stroke="#1a1a1a" stroke-width="0.8" fill="none" />
<path d="M82.00,291.40 C81.40,299.66 77.90,302.24 76.50,308.43 C75.90,312.04 77.10,314.62 78.10,317.20" stroke="#1a1a1a" stroke-width="0.8" fill="none" />
<line x1="72.50" y1="291.40" x2="72.50" y2="317.20" stroke="#1a1a1a" stroke-width="0.8" />
<ellipse cx="67.90" cy="294.60" rx="0.6" ry="1.2" stroke="#1a1a1a" stroke-width="0.5" fill="#333" transform="rotate(-12 67.90 294.60)"/>
<ellipse cx="77.70" cy="294.60" rx="0.6" ry="1.2" stroke="#1a1a1a" stroke-width="0.5" fill="#333" transform="rotate(12 77.70 294.60)"/>
<path d="M72.70,279.30 L85.44,282.86 L86.40,287.48 L72.70,292.50 L59.00,287.48 L59.96,282.86 Z" stroke="#1a1a1a" stroke-width="0.9" fill="#fff" />
<path d="M59.00,287.48 L72.70,292.50 L86.40,287.48" stroke="#1a1a1a" stroke-width="1.4" fill="none" />
<path d="M59.96,282.86 L59.00,287.48 M85.44,282.86 L86.40,287.48" stroke="#1a1a1a" stroke-width="0.9" fill="none" />
<path d="M60.37,286.69 L69.28,288.80 M85.03,286.69 L76.12,288.80" stroke="#1a1a1a" stroke-width="0.6" fill="none" />
<path d="M62.01,284.84h0.01 M66.95,284.05h0.01 M83.66,284.84h0.01" stroke="#1a1a1a" stroke-width="1.3" fill="none" stroke-linecap="round"/>
<ellipse cx="78.87" cy="284.32" rx="0.8" ry="1.4" stroke="#333" stroke-width="0.6" fill="#777" />
<ellipse cx="72.70" cy="286.16" rx="2.0" ry="2.4" stroke="#1a1a1a" stroke-width="0.5" fill="#111" />
<path d="M70.30,283.26 L75.10,289.07 M75.10,283.26 L70.30,289.07" stroke="#1a1a1a" stroke-width="0.9" fill="none" />
</g>
<rect x="42.9" y="253.8" width="44.20" height="63.40" fill="none" stroke="#444" stroke-width="0.8"/>
<text x="43.00" y="251.60" font-size="7.6" text-anchor="start" font-family="'Liberation Sans', sans-serif" fill="#222" textLength="9.4" lengthAdjust="spacingAndGlyphs">5.1</text>
<defs><clipPath id="b52c"><rect x="101.5" y="254.1" width="52.30" height="58.60"/></clipPath></defs>
<rect x="101.5" y="254.1" width="52.30" height="58.60" fill="#fff"/>
<g clip-path="url(#b52c)">
<line x1="121.70" y1="254.10" x2="121.70" y2="277.00" stroke="#1a1a1a" stroke-width="0.8" />
<line x1="136.60" y1="254.10" x2="136.60" y2="283.00" stroke="#1a1a1a" stroke-width="0.8" />
<line x1="136.60" y1="257.00" x2="153.80" y2="260.50" stroke="#1a1a1a" stroke-width="0.6" />
<path d="M101.5,262 L109.4,260.2 L110.6,260.8 V272.4 L101.5,275.2" stroke="#1a1a1a" stroke-width="0.8" fill="none" />
<path d="M101.5,288.6 Q105,288.2 108.6,286.4 M134,288.4 L153.8,290.6" stroke="#1a1a1a" stroke-width="0.8" fill="none" />
<path d="M113.90,260.00 L120.10,258.00 L120.10,272.00 L113.90,273.40 Z" stroke="#1a1a1a" stroke-width="0.8" fill="#fff" />
<path d="M120.10,258.00 L125.31,258.70 Q126.30,259.00 126.30,260.40 V270.80 Q126.30,272.20 125.06,272.10 L120.10,272.00" stroke="#1a1a1a" stroke-width="0.8" fill="#fff" />
<path d="M122.83,260.80 v3.2 M124.56,260.80 v3.2 M122.83,266.00 v3.2 M124.56,266.00 v3.2" stroke="#444" stroke-width="0.7" fill="none" />
<path d="M122.83,260.80 q0.9,-1.2 1.8,0 M122.83,266.00 q0.9,-1.2 1.8,0" stroke="#444" stroke-width="0.6" fill="none" />
<path d="M115.50,261.80h0.01 M115.50,270.40h0.01 M119.11,260.40h0.01 M119.11,269.80h0.01 M117.25,265.60h0.01" stroke="#444" stroke-width="1.0" fill="none" stroke-linecap="round"/>
<path d="M121.6,262.4h3.4 M121.6,265.6h3.4 M121.6,268.8h3.4" stroke="#222" stroke-width="1.6" fill="none" stroke-linecap="round"/>
<path d="M111.40,288.00 C112.00,295.90 114.90,298.37 116.30,304.30 C116.90,307.76 115.70,310.23 114.70,312.70" stroke="#1a1a1a" stroke-width="0.8" fill="none" />
<path d="M131.00,288.00 C130.40,295.90 127.50,298.37 126.10,304.30 C125.50,307.76 126.70,310.23 127.70,312.70" stroke="#1a1a1a" stroke-width="0.8" fill="none" />
<line x1="121.20" y1="288.00" x2="121.20" y2="312.70" stroke="#1a1a1a" stroke-width="0.8" />
<ellipse cx="116.60" cy="291.20" rx="0.6" ry="1.2" stroke="#1a1a1a" stroke-width="0.5" fill="#333" transform="rotate(-12 116.60 291.20)"/>
<ellipse cx="126.40" cy="291.20" rx="0.6" ry="1.2" stroke="#1a1a1a" stroke-width="0.5" fill="#333" transform="rotate(12 126.40 291.20)"/>
<path d="M121.40,274.80 L133.21,278.42 L134.10,283.11 L121.40,288.20 L108.70,283.11 L109.59,278.42 Z" stroke="#1a1a1a" stroke-width="0.9" fill="#fff" />
<path d="M108.70,283.11 L121.40,288.20 L134.10,283.11" stroke="#1a1a1a" stroke-width="1.4" fill="none" />
<path d="M109.59,278.42 L108.70,283.11 M133.21,278.42 L134.10,283.11" stroke="#1a1a1a" stroke-width="0.9" fill="none" />
<path d="M109.97,282.30 L118.23,284.45 M132.83,282.30 L124.58,284.45" stroke="#1a1a1a" stroke-width="0.6" fill="none" />
<path d="M111.49,280.43h0.01 M116.07,279.62h0.01 M131.56,280.43h0.01" stroke="#1a1a1a" stroke-width="1.3" fill="none" stroke-linecap="round"/>
<ellipse cx="127.12" cy="279.89" rx="0.8" ry="1.4" stroke="#333" stroke-width="0.6" fill="#777" />
<ellipse cx="121.40" cy="281.77" rx="2.0" ry="2.4" stroke="#1a1a1a" stroke-width="0.5" fill="#111" />
<path d="M119.00,278.82 L123.80,284.72 M123.80,278.82 L119.00,284.72" stroke="#1a1a1a" stroke-width="0.9" fill="none" />
<ellipse cx="140.90" cy="284.30" rx="5.3" ry="8.8" stroke="#333" stroke-width="0.7" fill="none" />
<ellipse cx="140.90" cy="284.30" rx="4.1" ry="7.6" stroke="#555" stroke-width="0.6" fill="none" />
<path d="M118,279.8 L128,281.6 L133,283.4 L147.2,286.2 L152.4,280.6" stroke="#111" stroke-width="1.6" fill="none" stroke-linecap="round" stroke-linejoin="round"/>
<path d="M139.6,291.6 Q136,291.6 135.2,289" stroke="#1a1a1a" stroke-width="1.4" fill="none" />
<path d="M133.20,289.80 L135.40,285.60 L137.60,289.60 Z" stroke="#1a1a1a" stroke-width="0.4" fill="#111" />
</g>
<circle cx="133.60" cy="266.00" r="5.7" stroke="#1a1a1a" stroke-width="0.75" fill="#fff" />
<text x="133.60" y="269.12" font-size="8.8" text-anchor="middle" font-family="'Liberation Sans', sans-serif" fill="#222" >2</text>
<circle cx="145.70" cy="267.80" r="5.7" stroke="#1a1a1a" stroke-width="0.75" fill="#fff" />
<text x="145.70" y="270.92" font-size="8.8" text-anchor="middle" font-family="'Liberation Sans', sans-serif" fill="#222" >3</text>
<circle cx="132.60" cy="299.60" r="5.6" stroke="#1a1a1a" stroke-width="0.75" fill="#fff" />
<text x="132.60" y="302.44" font-size="8" text-anchor="middle" font-family="'Liberation Serif', serif" fill="#222" >1</text>
<circle cx="146.30" cy="299.40" r="5.6" stroke="#1a1a1a" stroke-width="0.75" fill="#fff" />
<text x="146.30" y="302.24" font-size="8" text-anchor="middle" font-family="'Liberation Serif', serif" fill="#222" textLength="7.2" lengthAdjust="spacingAndGlyphs">15</text>
<rect x="101.5" y="254.1" width="52.30" height="58.60" fill="none" stroke="#444" stroke-width="0.8"/>
<text x="102.60" y="251.60" font-size="7.6" text-anchor="start" font-family="'Liberation Sans', sans-serif" fill="#222" textLength="9.4" lengthAdjust="spacingAndGlyphs">5.2</text>
<path d="M87.1,294.2 H101.5 M94.1,294.2 V366.8 H103.6" stroke="#1a1a1a" stroke-width="0.85" fill="none" stroke-dasharray="2.8 2.3"/>
<path d="M113,357 Q104.5,356 102.2,361.9 Q100.6,367.9 105.4,372.8" stroke="#1a1a1a" stroke-width="0.8" fill="none" stroke-dasharray="2.8 2.3"/>
<path d="M180.6,380.6 Q187,376.2 193.6,379.8" stroke="#1a1a1a" stroke-width="0.8" fill="none" stroke-dasharray="2.8 2.3"/>
<line x1="170.60" y1="313.60" x2="178.20" y2="321.00" stroke="#1a1a1a" stroke-width="0.75" />
<circle cx="167.00" cy="309.50" r="5.5" stroke="#1a1a1a" stroke-width="0.75" fill="#fff" />
<text x="167.00" y="312.41" font-size="8.2" text-anchor="middle" font-family="'Liberation Sans', sans-serif" fill="#222" >C</text>
<line x1="157.00" y1="364.20" x2="152.80" y2="372.40" stroke="#1a1a1a" stroke-width="0.75" />
<circle cx="159.30" cy="359.40" r="5.5" stroke="#1a1a1a" stroke-width="0.75" fill="#fff" />
<text x="159.30" y="362.31" font-size="8.2" text-anchor="middle" font-family="'Liberation Sans', sans-serif" fill="#222" >B</text>
<line x1="230.00" y1="346.40" x2="236.60" y2="353.00" stroke="#1a1a1a" stroke-width="0.75" />
<circle cx="226.60" cy="342.30" r="5.5" stroke="#1a1a1a" stroke-width="0.75" fill="#fff" />
<text x="226.60" y="345.21" font-size="8.2" text-anchor="middle" font-family="'Liberation Sans', sans-serif" fill="#222" >C</text>
<g transform="matrix(0.95 0 0 0.95 32.2 192.6)">
<defs><clipPath id="hbc"><path d="M481.7,117 L481.7,82 Q481.7,75 488,75.2 L566,95.5 Q571.6,96.5 571.6,102 L571.6,134.4 L559.5,137.8 Z"/></clipPath><clipPath id="fbc"><path d="M387.5,172.0 L467.90000000000003,191.6 L467.90000000000003,207.5 L387.5,187.6 Z"/></clipPath><clipPath id="rrc"><path d="M470.6,191.7 L560.2,139.7 L562.3,154.0 L470.4,207.9 Z"/></clipPath></defs>
<path d="M483.10,134.60 C483.10,137.96 484.36,139.64 484.57,142.22 C484.62,143.11 483.67,143.56 484.02,145.02 Q485.40,146.47 486.78,145.02 C487.12,143.56 486.18,143.11 486.23,142.22 C486.44,139.64 487.70,137.96 487.70,134.60 Z" stroke="#2a2a2a" stroke-width="0.7" fill="#fff" />
<path d="M485.40,135.72 L485.40,145.24" stroke="#555" stroke-width="0.5" fill="none" />
<path d="M564.40,150.20 C564.40,154.58 566.16,156.77 566.45,160.13 C566.51,161.30 565.20,161.88 565.68,163.78 Q567.60,165.68 569.52,163.78 C570.00,161.88 568.69,161.30 568.75,160.13 C569.04,156.77 570.80,154.58 570.80,150.20 Z" stroke="#2a2a2a" stroke-width="0.7" fill="#fff" />
<path d="M567.60,151.66 L567.60,164.07" stroke="#555" stroke-width="0.5" fill="none" />
<line x1="409.40" y1="175.40" x2="482.00" y2="134.30" stroke="#1a1a1a" stroke-width="0.7" />
<line x1="483.00" y1="133.40" x2="540.70" y2="149.60" stroke="#1a1a1a" stroke-width="0.7" />
<path d="M481.70,117.00 L559.50,137.80 L559.50,139.50 L540.70,149.60 L483.00,133.40 L481.70,133.40 Z" stroke="#1a1a1a" stroke-width="0.7" fill="#fff" />
<ellipse cx="520" cy="134.9" rx="2.3" ry="0.9" fill="#1a1a1a" transform="rotate(14 520 134.9)"/>
<path d="M493.6,121.6 v1.6 M491.6,126.4 v2 M490.2,130.6 v1.4" stroke="#666" stroke-width="0.6" fill="none" />
<path d="M481.7,134.6 L481.7,82 Q481.7,75 488,75.2 L566,95.5 Q571.6,96.5 571.6,102 L571.6,148.7" stroke="#1a1a1a" stroke-width="0.85" fill="none" />
<path d="M481.7,117 L559.5,137.8 L571.6,134.2" stroke="#1a1a1a" stroke-width="0.75" fill="none" />
<g clip-path="url(#hbc)">
<path d="M483.0,76.4Q479.3,77.4 478.6,81.1M483.0,76.4Q483.2,81.1 487.3,83.4M491.7,78.7Q488.0,79.7 487.3,83.4M491.7,78.7Q491.9,83.4 496.0,85.7M500.4,81.0Q496.7,82.0 496.0,85.7M500.4,81.0Q500.6,85.7 504.7,88.0M509.1,83.3Q505.4,84.3 504.7,88.0M509.1,83.3Q509.3,88.0 513.4,90.3M517.8,85.6Q514.1,86.6 513.4,90.3M517.8,85.6Q518.0,90.3 522.1,92.6M526.5,87.9Q522.8,88.9 522.1,92.6M526.5,87.9Q526.7,92.6 530.8,94.9M535.2,90.2Q531.5,91.2 530.8,94.9M535.2,90.2Q535.4,94.9 539.5,97.2M543.9,92.5Q540.2,93.5 539.5,97.2M543.9,92.5Q544.1,97.2 548.2,99.5M552.6,94.8Q548.9,95.8 548.2,99.5M552.6,94.8Q552.8,99.5 556.9,101.8M561.2,97.1Q557.6,98.1 556.9,101.8M561.2,97.1Q561.5,101.8 565.6,104.2M570.0,99.4Q566.3,100.4 565.6,104.2M570.0,99.4Q570.2,104.1 574.3,106.5M478.6,81.1Q475.0,82.1 474.3,85.8M478.6,81.1Q478.8,85.8 483.0,88.2M487.3,83.4Q483.7,84.4 483.0,88.2M487.3,83.4Q487.5,88.1 491.7,90.5M496.0,85.7Q492.4,86.7 491.7,90.5M496.0,85.7Q496.2,90.4 500.4,92.8M504.7,88.0Q501.1,89.0 500.4,92.8M504.7,88.0Q504.9,92.8 509.1,95.1M513.4,90.3Q509.8,91.3 509.1,95.1M513.4,90.3Q513.6,95.1 517.8,97.4M522.1,92.6Q518.5,93.6 517.8,97.4M522.1,92.6Q522.3,97.4 526.5,99.7M530.8,94.9Q527.2,96.0 526.5,99.7M530.8,94.9Q531.0,99.7 535.2,102.0M539.5,97.2Q535.9,98.3 535.2,102.0M539.5,97.2Q539.7,102.0 543.9,104.3M548.2,99.5Q544.6,100.6 543.9,104.3M548.2,99.5Q548.4,104.3 552.6,106.6M556.9,101.8Q553.3,102.9 552.6,106.6M556.9,101.8Q557.1,106.6 561.2,108.9M565.6,104.2Q562.0,105.2 561.2,108.9M565.6,104.2Q565.8,108.9 570.0,111.2M483.0,88.2Q479.3,89.2 478.6,92.9M483.0,88.2Q483.2,92.9 487.3,95.2M491.7,90.5Q488.0,91.5 487.3,95.2M491.7,90.5Q491.9,95.2 496.0,97.5M500.4,92.8Q496.7,93.8 496.0,97.5M500.4,92.8Q500.6,97.5 504.7,99.8M509.1,95.1Q505.4,96.1 504.7,99.8M509.1,95.1Q509.3,99.8 513.4,102.1M517.8,97.4Q514.1,98.4 513.4,102.1M517.8,97.4Q518.0,102.1 522.1,104.4M526.5,99.7Q522.8,100.7 522.1,104.4M526.5,99.7Q526.7,104.4 530.8,106.7M535.2,102.0Q531.5,103.0 530.8,106.7M535.2,102.0Q535.4,106.7 539.5,109.0M543.9,104.3Q540.2,105.3 539.5,109.0M543.9,104.3Q544.1,109.0 548.2,111.3M552.6,106.6Q548.9,107.6 548.2,111.3M552.6,106.6Q552.8,111.3 556.9,113.6M561.2,108.9Q557.6,109.9 556.9,113.6M561.2,108.9Q561.5,113.6 565.6,116.0M570.0,111.2Q566.3,112.2 565.6,116.0M570.0,111.2Q570.2,115.9 574.3,118.3M478.6,92.9Q475.0,93.9 474.3,97.6M478.6,92.9Q478.8,97.6 483.0,100.0M487.3,95.2Q483.7,96.2 483.0,100.0M487.3,95.2Q487.5,99.9 491.7,102.3M496.0,97.5Q492.4,98.5 491.7,102.3M496.0,97.5Q496.2,102.2 500.4,104.6M504.7,99.8Q501.1,100.8 500.4,104.6M504.7,99.8Q504.9,104.6 509.1,106.9M513.4,102.1Q509.8,103.1 509.1,106.9M513.4,102.1Q513.6,106.9 517.8,109.2M522.1,104.4Q518.5,105.4 517.8,109.2M522.1,104.4Q522.3,109.2 526.5,111.5M530.8,106.7Q527.2,107.8 526.5,111.5M530.8,106.7Q531.0,111.5 535.2,113.8M539.5,109.0Q535.9,110.1 535.2,113.8M539.5,109.0Q539.7,113.8 543.9,116.1M548.2,111.3Q544.6,112.4 543.9,116.1M548.2,111.3Q548.4,116.1 552.6,118.4M556.9,113.6Q553.3,114.7 552.6,118.4M556.9,113.6Q557.1,118.4 561.2,120.7M565.6,116.0Q562.0,117.0 561.2,120.7M565.6,116.0Q565.8,120.7 570.0,123.0M483.0,100.0Q479.3,101.0 478.6,104.7M483.0,100.0Q483.2,104.7 487.3,107.0M491.7,102.3Q488.0,103.3 487.3,107.0M491.7,102.3Q491.9,107.0 496.0,109.3M500.4,104.6Q496.7,105.6 496.0,109.3M500.4,104.6Q500.6,109.3 504.7,111.6M509.1,106.9Q505.4,107.9 504.7,111.6M509.1,106.9Q509.3,111.6 513.4,113.9M517.8,109.2Q514.1,110.2 513.4,113.9M517.8,109.2Q518.0,113.9 522.1,116.2M526.5,111.5Q522.8,112.5 522.1,116.2M526.5,111.5Q526.7,116.2 530.8,118.5M535.2,113.8Q531.5,114.8 530.8,118.5M535.2,113.8Q535.4,118.5 539.5,120.8M543.9,116.1Q540.2,117.1 539.5,120.8M543.9,116.1Q544.1,120.8 548.2,123.1M552.6,118.4Q548.9,119.4 548.2,123.1M552.6,118.4Q552.8,123.1 556.9,125.4M561.2,120.7Q557.6,121.7 556.9,125.4M561.2,120.7Q561.5,125.4 565.6,127.8M570.0,123.0Q566.3,124.0 565.6,127.8M570.0,123.0Q570.2,127.7 574.3,130.1M478.6,104.7Q475.0,105.7 474.3,109.4M478.6,104.7Q478.8,109.4 483.0,111.8M487.3,107.0Q483.7,108.0 483.0,111.8M487.3,107.0Q487.5,111.7 491.7,114.1M496.0,109.3Q492.4,110.3 491.7,114.1M496.0,109.3Q496.2,114.0 500.4,116.4M504.7,111.6Q501.1,112.6 500.4,116.4M504.7,111.6Q504.9,116.4 509.1,118.7M513.4,113.9Q509.8,114.9 509.1,118.7M513.4,113.9Q513.6,118.7 517.8,121.0M522.1,116.2Q518.5,117.2 517.8,121.0M522.1,116.2Q522.3,121.0 526.5,123.3M530.8,118.5Q527.2,119.6 526.5,123.3M530.8,118.5Q531.0,123.3 535.2,125.6M539.5,120.8Q535.9,121.9 535.2,125.6M539.5,120.8Q539.7,125.6 543.9,127.9M548.2,123.1Q544.6,124.2 543.9,127.9M548.2,123.1Q548.4,127.9 552.6,130.2M556.9,125.4Q553.3,126.5 552.6,130.2M556.9,125.4Q557.1,130.2 561.2,132.5M565.6,127.8Q562.0,128.8 561.2,132.5M565.6,127.8Q565.8,132.5 570.0,134.8M483.0,111.8Q479.3,112.8 478.6,116.5M483.0,111.8Q483.2,116.5 487.3,118.8M491.7,114.1Q488.0,115.1 487.3,118.8M491.7,114.1Q491.9,118.8 496.0,121.1M500.4,116.4Q496.7,117.4 496.0,121.1M500.4,116.4Q500.6,121.1 504.7,123.4M509.1,118.7Q505.4,119.7 504.7,123.4M509.1,118.7Q509.3,123.4 513.4,125.7M517.8,121.0Q514.1,122.0 513.4,125.7M517.8,121.0Q518.0,125.7 522.1,128.0M526.5,123.3Q522.8,124.3 522.1,128.0M526.5,123.3Q526.7,128.0 530.8,130.3M535.2,125.6Q531.5,126.6 530.8,130.3M535.2,125.6Q535.4,130.3 539.5,132.6M543.9,127.9Q540.2,128.9 539.5,132.6M543.9,127.9Q544.1,132.6 548.2,134.9M552.6,130.2Q548.9,131.2 548.2,134.9M552.6,130.2Q552.8,134.9 556.9,137.2M561.2,132.5Q557.6,133.5 556.9,137.2M561.2,132.5Q561.5,137.2 565.6,139.6M570.0,134.8Q566.3,135.8 565.6,139.6M570.0,134.8Q570.2,139.5 574.3,141.9M478.6,116.5Q475.0,117.5 474.3,121.2M478.6,116.5Q478.8,121.2 483.0,123.6M487.3,118.8Q483.7,119.8 483.0,123.6M487.3,118.8Q487.5,123.5 491.7,125.9M496.0,121.1Q492.4,122.1 491.7,125.9M496.0,121.1Q496.2,125.8 500.4,128.2M504.7,123.4Q501.1,124.4 500.4,128.2M504.7,123.4Q504.9,128.2 509.1,130.5M513.4,125.7Q509.8,126.7 509.1,130.5M513.4,125.7Q513.6,130.5 517.8,132.8M522.1,128.0Q518.5,129.0 517.8,132.8M522.1,128.0Q522.3,132.8 526.5,135.1M530.8,130.3Q527.2,131.4 526.5,135.1M530.8,130.3Q531.0,135.1 535.2,137.4M539.5,132.6Q535.9,133.7 535.2,137.4M539.5,132.6Q539.7,137.4 543.9,139.7M548.2,134.9Q544.6,136.0 543.9,139.7M548.2,134.9Q548.4,139.7 552.6,142.0M556.9,137.2Q553.3,138.3 552.6,142.0M556.9,137.2Q557.1,142.0 561.2,144.3M565.6,139.6Q562.0,140.6 561.2,144.3M565.6,139.6Q565.8,144.3 570.0,146.6M483.0,123.6Q479.3,124.6 478.6,128.3M483.0,123.6Q483.2,128.3 487.3,130.6M491.7,125.9Q488.0,126.9 487.3,130.6M491.7,125.9Q491.9,130.6 496.0,132.9M500.4,128.2Q496.7,129.2 496.0,132.9M500.4,128.2Q500.6,132.9 504.7,135.2M509.1,130.5Q505.4,131.5 504.7,135.2M509.1,130.5Q509.3,135.2 513.4,137.5M517.8,132.8Q514.1,133.8 513.4,137.5M517.8,132.8Q518.0,137.5 522.1,139.8M526.5,135.1Q522.8,136.1 522.1,139.8M526.5,135.1Q526.7,139.8 530.8,142.1M535.2,137.4Q531.5,138.4 530.8,142.1M535.2,137.4Q535.4,142.1 539.5,144.4M543.9,139.7Q540.2,140.7 539.5,144.4M543.9,139.7Q544.1,144.4 548.2,146.7M552.6,142.0Q548.9,143.0 548.2,146.7M552.6,142.0Q552.8,146.7 556.9,149.0M561.2,144.3Q557.6,145.3 556.9,149.0M561.2,144.3Q561.5,149.0 565.6,151.4M570.0,146.6Q566.3,147.6 565.6,151.4M570.0,146.6Q570.2,151.3 574.3,153.7" stroke="#1a1a1a" stroke-width="0.75" fill="none" />
<path d="M483.0,76.4h0.01M491.7,78.7h0.01M500.4,81.0h0.01M509.1,83.3h0.01M517.8,85.6h0.01M526.5,87.9h0.01M535.2,90.2h0.01M543.9,92.5h0.01M552.6,94.8h0.01M561.2,97.1h0.01M570.0,99.4h0.01M478.6,81.1h0.01M487.3,83.4h0.01M496.0,85.7h0.01M504.7,88.0h0.01M513.4,90.3h0.01M522.1,92.6h0.01M530.8,94.9h0.01M539.5,97.2h0.01M548.2,99.5h0.01M556.9,101.8h0.01M565.6,104.2h0.01M483.0,88.2h0.01M491.7,90.5h0.01M500.4,92.8h0.01M509.1,95.1h0.01M517.8,97.4h0.01M526.5,99.7h0.01M535.2,102.0h0.01M543.9,104.3h0.01M552.6,106.6h0.01M561.2,108.9h0.01M570.0,111.2h0.01M478.6,92.9h0.01M487.3,95.2h0.01M496.0,97.5h0.01M504.7,99.8h0.01M513.4,102.1h0.01M522.1,104.4h0.01M530.8,106.7h0.01M539.5,109.0h0.01M548.2,111.3h0.01M556.9,113.6h0.01M565.6,116.0h0.01M483.0,100.0h0.01M491.7,102.3h0.01M500.4,104.6h0.01M509.1,106.9h0.01M517.8,109.2h0.01M526.5,111.5h0.01M535.2,113.8h0.01M543.9,116.1h0.01M552.6,118.4h0.01M561.2,120.7h0.01M570.0,123.0h0.01M478.6,104.7h0.01M487.3,107.0h0.01M496.0,109.3h0.01M504.7,111.6h0.01M513.4,113.9h0.01M522.1,116.2h0.01M530.8,118.5h0.01M539.5,120.8h0.01M548.2,123.1h0.01M556.9,125.4h0.01M565.6,127.8h0.01M483.0,111.8h0.01M491.7,114.1h0.01M500.4,116.4h0.01M509.1,118.7h0.01M517.8,121.0h0.01M526.5,123.3h0.01M535.2,125.6h0.01M543.9,127.9h0.01M552.6,130.2h0.01M561.2,132.5h0.01M570.0,134.8h0.01M478.6,116.5h0.01M487.3,118.8h0.01M496.0,121.1h0.01M504.7,123.4h0.01M513.4,125.7h0.01M522.1,128.0h0.01M530.8,130.3h0.01M539.5,132.6h0.01M548.2,134.9h0.01M556.9,137.2h0.01M565.6,139.6h0.01M483.0,123.6h0.01M491.7,125.9h0.01M500.4,128.2h0.01M509.1,130.5h0.01M517.8,132.8h0.01M526.5,135.1h0.01M535.2,137.4h0.01M543.9,139.7h0.01M552.6,142.0h0.01M561.2,144.3h0.01M570.0,146.6h0.01M478.6,128.3h0.01M487.3,130.6h0.01M496.0,132.9h0.01M504.7,135.2h0.01M513.4,137.5h0.01M522.1,139.8h0.01M530.8,142.1h0.01M539.5,144.4h0.01M548.2,146.7h0.01M556.9,149.0h0.01M565.6,151.4h0.01" stroke="#1a1a1a" stroke-width="1.6" fill="none" stroke-linecap="round"/>
</g>
<path d="M559.6,93.9 L566,95.5 Q571.6,96.5 571.6,102 L571.6,134.2 L561.2,137.6 L561.3,110 Q560.6,103 562,99 Z" fill="#fff" stroke="none"/>
<path d="M562,110.4 C560.6,104 564.4,98.4 571,97.9 M561.3,121.5 C560.4,115.4 565,110.6 571.6,110.4 M561.3,134.1 C560.4,128 565,123.2 571.6,123 M561.3,137.4 Q561.6,135.6 564.4,134.6" stroke="#1a1a1a" stroke-width="0.8" fill="none" />
<path d="M565.2,96.6 l2.2,2.6 M567.8,96.8 l-2.6,2.2" stroke="#1a1a1a" stroke-width="0.5" fill="none" />
<path d="M571.6,134.2 L571.6,148.7 L567,150.5 M562.3,139 L562.3,154" stroke="#1a1a1a" stroke-width="0.75" fill="none" />
<path d="M564.4,142.2 l1.6,2.4" stroke="#555" stroke-width="0.6" fill="none" />
<path d="M387.50,170.20 L481.70,117.40 L481.70,119.60 L391.50,171.40 Z" stroke="#666" stroke-width="0.4" fill="#d6d6d6" />
<line x1="387.50" y1="170.20" x2="481.70" y2="117.40" stroke="#1a1a1a" stroke-width="0.7" />
<line x1="389.50" y1="170.60" x2="481.70" y2="118.50" stroke="#777" stroke-width="0.4" stroke-dasharray="5 1.2"/>
<line x1="392.00" y1="171.40" x2="481.70" y2="120.40" stroke="#1a1a1a" stroke-width="1.0" />
<line x1="396.00" y1="172.40" x2="479.60" y2="124.20" stroke="#1a1a1a" stroke-width="0.7" />
<line x1="399.50" y1="173.30" x2="479.60" y2="126.60" stroke="#1a1a1a" stroke-width="0.6" />
<line x1="479.60" y1="123.60" x2="479.60" y2="127.40" stroke="#1a1a1a" stroke-width="0.7" />
<line x1="483.40" y1="118.00" x2="483.40" y2="133.40" stroke="#444" stroke-width="0.6" />
<rect x="483.3" y="123.6" width="2.4" height="4.6" fill="#1a1a1a"/>
<rect x="481.4" y="123" width="4.6" height="5.8" fill="none" stroke="#1a1a1a" stroke-width="0.5"/>
<path d="M390.10,187.80 C390.10,191.70 391.64,193.65 391.89,196.64 C391.95,197.68 390.80,198.20 391.22,199.89 Q392.90,201.58 394.58,199.89 C395.00,198.20 393.85,197.68 393.91,196.64 C394.16,193.65 395.70,191.70 395.70,187.80 Z" stroke="#2a2a2a" stroke-width="0.7" fill="#fff" />
<path d="M392.90,189.10 L392.90,200.15" stroke="#555" stroke-width="0.5" fill="none" />
<path d="M464.00,207.60 C464.00,211.80 466.25,213.90 466.62,217.12 C466.71,218.24 465.03,218.80 465.64,220.62 Q468.10,222.44 470.56,220.62 C471.18,218.80 469.49,218.24 469.58,217.12 C469.95,213.90 472.20,211.80 472.20,207.60 Z" stroke="#2a2a2a" stroke-width="0.7" fill="#fff" />
<path d="M468.10,209.00 L468.10,220.90" stroke="#555" stroke-width="0.5" fill="none" />
<path d="M387.50,170.20 L469.80,190.20 L470.40,207.90 L387.50,187.60 Z" stroke="#1a1a1a" stroke-width="0.85" fill="#fff" />
<line x1="387.50" y1="172.00" x2="467.90" y2="191.60" stroke="#1a1a1a" stroke-width="0.6" />
<line x1="392.00" y1="169.20" x2="472.50" y2="189.00" stroke="#444" stroke-width="0.5" />
<g clip-path="url(#fbc)">
<path d="M389.3,168.3Q385.7,169.5 385.1,173.3M389.3,168.3Q389.5,173.0 393.6,175.4M397.8,170.4Q394.1,171.6 393.6,175.4M397.8,170.4Q397.9,175.2 402.0,177.6M406.2,172.6Q402.6,173.8 402.0,177.6M406.2,172.6Q406.4,177.3 410.5,179.7M414.7,174.7Q411.0,175.9 410.5,179.7M414.7,174.7Q414.8,179.4 418.9,181.8M423.1,176.8Q419.5,178.0 418.9,181.8M423.1,176.8Q423.3,181.6 427.4,183.9M431.6,179.0Q427.9,180.2 427.4,183.9M431.6,179.0Q431.7,183.7 435.8,186.1M440.0,181.1Q436.4,182.3 435.8,186.1M440.0,181.1Q440.2,185.8 444.2,188.2M448.5,183.2Q444.8,184.4 444.2,188.2M448.5,183.2Q448.6,188.0 452.7,190.3M456.9,185.3Q453.3,186.5 452.7,190.3M456.9,185.3Q457.1,190.1 461.2,192.5M465.4,187.5Q461.7,188.7 461.2,192.5M465.4,187.5Q465.5,192.2 469.6,194.6M473.8,189.6Q470.2,190.8 469.6,194.6M473.8,189.6Q474.0,194.3 478.1,196.7M385.1,173.3Q381.5,174.5 380.9,178.3M385.1,173.3Q385.2,178.0 389.3,180.4M393.6,175.4Q389.9,176.6 389.3,180.4M393.6,175.4Q393.7,180.2 397.8,182.5M402.0,177.6Q398.4,178.8 397.8,182.5M402.0,177.6Q402.1,182.3 406.2,184.7M410.5,179.7Q406.8,180.9 406.2,184.7M410.5,179.7Q410.6,184.4 414.7,186.8M418.9,181.8Q415.3,183.0 414.7,186.8M418.9,181.8Q419.0,186.5 423.1,188.9M427.4,183.9Q423.7,185.1 423.1,188.9M427.4,183.9Q427.5,188.7 431.6,191.1M435.8,186.1Q432.2,187.3 431.6,191.1M435.8,186.1Q435.9,190.8 440.0,193.2M444.2,188.2Q440.6,189.4 440.0,193.2M444.2,188.2Q444.4,192.9 448.5,195.3M452.7,190.3Q449.1,191.5 448.5,195.3M452.7,190.3Q452.8,195.1 456.9,197.4M461.2,192.5Q457.5,193.7 456.9,197.4M461.2,192.5Q461.3,197.2 465.4,199.6M469.6,194.6Q466.0,195.8 465.4,199.6M469.6,194.6Q469.7,199.3 473.8,201.7M389.3,180.4Q385.7,181.6 385.1,185.4M389.3,180.4Q389.5,185.1 393.6,187.5M397.8,182.5Q394.1,183.7 393.6,187.5M397.8,182.5Q397.9,187.3 402.0,189.7M406.2,184.7Q402.6,185.9 402.0,189.7M406.2,184.7Q406.4,189.4 410.5,191.8M414.7,186.8Q411.0,188.0 410.5,191.8M414.7,186.8Q414.8,191.5 418.9,193.9M423.1,188.9Q419.5,190.1 418.9,193.9M423.1,188.9Q423.3,193.7 427.4,196.0M431.6,191.1Q427.9,192.3 427.4,196.0M431.6,191.1Q431.7,195.8 435.8,198.2M440.0,193.2Q436.4,194.4 435.8,198.2M440.0,193.2Q440.2,197.9 444.2,200.3M448.5,195.3Q444.8,196.5 444.2,200.3M448.5,195.3Q448.6,200.1 452.7,202.4M456.9,197.4Q453.3,198.6 452.7,202.4M456.9,197.4Q457.1,202.2 461.2,204.6M465.4,199.6Q461.7,200.8 461.2,204.6M465.4,199.6Q465.5,204.3 469.6,206.7M473.8,201.7Q470.2,202.9 469.6,206.7M473.8,201.7Q474.0,206.4 478.1,208.8M385.1,185.4Q381.5,186.6 380.9,190.4M385.1,185.4Q385.2,190.1 389.3,192.5M393.6,187.5Q389.9,188.7 389.3,192.5M393.6,187.5Q393.7,192.3 397.8,194.6M402.0,189.7Q398.4,190.9 397.8,194.6M402.0,189.7Q402.1,194.4 406.2,196.8M410.5,191.8Q406.8,193.0 406.2,196.8M410.5,191.8Q410.6,196.5 414.7,198.9M418.9,193.9Q415.3,195.1 414.7,198.9M418.9,193.9Q419.0,198.6 423.1,201.0M427.4,196.0Q423.7,197.2 423.1,201.0M427.4,196.0Q427.5,200.8 431.6,203.2M435.8,198.2Q432.2,199.4 431.6,203.2M435.8,198.2Q435.9,202.9 440.0,205.3M444.2,200.3Q440.6,201.5 440.0,205.3M444.2,200.3Q444.4,205.0 448.5,207.4M452.7,202.4Q449.1,203.6 448.5,207.4M452.7,202.4Q452.8,207.2 456.9,209.5M461.2,204.6Q457.5,205.8 456.9,209.5M461.2,204.6Q461.3,209.3 465.4,211.7M469.6,206.7Q466.0,207.9 465.4,211.7M469.6,206.7Q469.7,211.4 473.8,213.8" stroke="#1a1a1a" stroke-width="0.75" fill="none" />
<path d="M389.3,168.3h0.01M397.8,170.4h0.01M406.2,172.6h0.01M414.7,174.7h0.01M423.1,176.8h0.01M431.6,179.0h0.01M440.0,181.1h0.01M448.5,183.2h0.01M456.9,185.3h0.01M465.4,187.5h0.01M473.8,189.6h0.01M385.1,173.3h0.01M393.6,175.4h0.01M402.0,177.6h0.01M410.5,179.7h0.01M418.9,181.8h0.01M427.4,183.9h0.01M435.8,186.1h0.01M444.2,188.2h0.01M452.7,190.3h0.01M461.2,192.5h0.01M469.6,194.6h0.01M389.3,180.4h0.01M397.8,182.5h0.01M406.2,184.7h0.01M414.7,186.8h0.01M423.1,188.9h0.01M431.6,191.1h0.01M440.0,193.2h0.01M448.5,195.3h0.01M456.9,197.4h0.01M465.4,199.6h0.01M473.8,201.7h0.01M385.1,185.4h0.01M393.6,187.5h0.01M402.0,189.7h0.01M410.5,191.8h0.01M418.9,193.9h0.01M427.4,196.0h0.01M435.8,198.2h0.01M444.2,200.3h0.01M452.7,202.4h0.01M461.2,204.6h0.01M469.6,206.7h0.01M389.3,192.5h0.01M397.8,194.6h0.01M406.2,196.8h0.01M414.7,198.9h0.01M423.1,201.0h0.01M431.6,203.2h0.01M440.0,205.3h0.01M448.5,207.4h0.01M456.9,209.5h0.01M465.4,211.7h0.01M473.8,213.8h0.01" stroke="#1a1a1a" stroke-width="1.6" fill="none" stroke-linecap="round"/>
</g>
<path d="M469.80,190.20 L559.60,137.70 L562.30,154.00 L470.40,207.90 Z" stroke="#1a1a1a" stroke-width="0.85" fill="#fff" />
<line x1="470.60" y1="191.70" x2="560.20" y2="139.70" stroke="#1a1a1a" stroke-width="0.6" />
<line x1="472.50" y1="189.00" x2="558.60" y2="137.60" stroke="#444" stroke-width="0.5" />
<g clip-path="url(#rrc)">
<path d="M467.4,186.6Q463.0,190.2 463.0,195.9M467.4,186.6Q469.0,189.3 471.8,190.8M476.2,181.5Q471.8,185.1 471.8,190.8M476.2,181.5Q477.8,184.2 480.6,185.7M485.0,176.4Q480.6,180.1 480.6,185.7M485.0,176.4Q486.6,179.1 489.4,180.6M493.8,171.3Q489.4,175.0 489.4,180.6M493.8,171.3Q495.4,174.0 498.2,175.6M502.6,166.3Q498.2,169.9 498.2,175.6M502.6,166.3Q504.2,168.9 507.0,170.5M511.4,161.2Q507.0,164.8 507.0,170.5M511.4,161.2Q513.0,163.9 515.8,165.4M520.2,156.1Q515.8,159.7 515.8,165.4M520.2,156.1Q521.8,158.8 524.6,160.3M529.0,151.0Q524.6,154.6 524.6,160.3M529.0,151.0Q530.6,153.7 533.4,155.2M537.8,145.9Q533.4,149.5 533.4,155.2M537.8,145.9Q539.4,148.6 542.2,150.1M546.6,140.8Q542.2,144.4 542.2,150.1M546.6,140.8Q548.2,143.5 551.0,145.0M555.4,135.7Q551.0,139.4 551.0,145.0M555.4,135.7Q557.0,138.4 559.8,139.9M564.2,130.7Q559.8,134.3 559.8,139.9M564.2,130.7Q565.8,133.3 568.6,134.9M463.0,195.9Q458.6,199.5 458.6,205.2M463.0,195.9Q464.6,198.6 467.4,200.1M471.8,190.8Q467.4,194.4 467.4,200.1M471.8,190.8Q473.4,193.5 476.2,195.0M480.6,185.7Q476.2,189.3 476.2,195.0M480.6,185.7Q482.2,188.4 485.0,189.9M489.4,180.6Q485.0,184.3 485.0,189.9M489.4,180.6Q491.0,183.3 493.8,184.8M498.2,175.6Q493.8,179.2 493.8,184.8M498.2,175.6Q499.8,178.2 502.6,179.8M507.0,170.5Q502.6,174.1 502.6,179.8M507.0,170.5Q508.6,173.1 511.4,174.7M515.8,165.4Q511.4,169.0 511.4,174.7M515.8,165.4Q517.4,168.1 520.2,169.6M524.6,160.3Q520.2,163.9 520.2,169.6M524.6,160.3Q526.2,163.0 529.0,164.5M533.4,155.2Q529.0,158.8 529.0,164.5M533.4,155.2Q535.0,157.9 537.8,159.4M542.2,150.1Q537.8,153.7 537.8,159.4M542.2,150.1Q543.8,152.8 546.6,154.3M551.0,145.0Q546.6,148.7 546.6,154.3M551.0,145.0Q552.6,147.7 555.4,149.2M559.8,139.9Q555.4,143.6 555.4,149.2M559.8,139.9Q561.4,142.6 564.2,144.2M467.4,200.1Q463.0,203.7 463.0,209.4M467.4,200.1Q469.0,202.8 471.8,204.3M476.2,195.0Q471.8,198.6 471.8,204.3M476.2,195.0Q477.8,197.7 480.6,199.2M485.0,189.9Q480.6,193.6 480.6,199.2M485.0,189.9Q486.6,192.6 489.4,194.1M493.8,184.8Q489.4,188.5 489.4,194.1M493.8,184.8Q495.4,187.5 498.2,189.1M502.6,179.8Q498.2,183.4 498.2,189.1M502.6,179.8Q504.2,182.4 507.0,184.0M511.4,174.7Q507.0,178.3 507.0,184.0M511.4,174.7Q513.0,177.4 515.8,178.9M520.2,169.6Q515.8,173.2 515.8,178.9M520.2,169.6Q521.8,172.3 524.6,173.8M529.0,164.5Q524.6,168.1 524.6,173.8M529.0,164.5Q530.6,167.2 533.4,168.7M537.8,159.4Q533.4,163.0 533.4,168.7M537.8,159.4Q539.4,162.1 542.2,163.6M546.6,154.3Q542.2,157.9 542.2,163.6M546.6,154.3Q548.2,157.0 551.0,158.5M555.4,149.2Q551.0,152.9 551.0,158.5M555.4,149.2Q557.0,151.9 559.8,153.4M564.2,144.2Q559.8,147.8 559.8,153.4M564.2,144.2Q565.8,146.8 568.6,148.4M463.0,209.4Q458.6,213.0 458.6,218.7M463.0,209.4Q464.6,212.1 467.4,213.6M471.8,204.3Q467.4,207.9 467.4,213.6M471.8,204.3Q473.4,207.0 476.2,208.5M480.6,199.2Q476.2,202.8 476.2,208.5M480.6,199.2Q482.2,201.9 485.0,203.4M489.4,194.1Q485.0,197.8 485.0,203.4M489.4,194.1Q491.0,196.8 493.8,198.3M498.2,189.1Q493.8,192.7 493.8,198.3M498.2,189.1Q499.8,191.7 502.6,193.3M507.0,184.0Q502.6,187.6 502.6,193.3M507.0,184.0Q508.6,186.6 511.4,188.2M515.8,178.9Q511.4,182.5 511.4,188.2M515.8,178.9Q517.4,181.6 520.2,183.1M524.6,173.8Q520.2,177.4 520.2,183.1M524.6,173.8Q526.2,176.5 529.0,178.0M533.4,168.7Q529.0,172.3 529.0,178.0M533.4,168.7Q535.0,171.4 537.8,172.9M542.2,163.6Q537.8,167.2 537.8,172.9M542.2,163.6Q543.8,166.3 546.6,167.8M551.0,158.5Q546.6,162.2 546.6,167.8M551.0,158.5Q552.6,161.2 555.4,162.7M559.8,153.4Q555.4,157.1 555.4,162.7M559.8,153.4Q561.4,156.1 564.2,157.7" stroke="#1a1a1a" stroke-width="0.75" fill="none" />
<path d="M467.4,186.6h0.01M476.2,181.5h0.01M485.0,176.4h0.01M493.8,171.3h0.01M502.6,166.3h0.01M511.4,161.2h0.01M520.2,156.1h0.01M529.0,151.0h0.01M537.8,145.9h0.01M546.6,140.8h0.01M555.4,135.7h0.01M564.2,130.7h0.01M463.0,195.9h0.01M471.8,190.8h0.01M480.6,185.7h0.01M489.4,180.6h0.01M498.2,175.6h0.01M507.0,170.5h0.01M515.8,165.4h0.01M524.6,160.3h0.01M533.4,155.2h0.01M542.2,150.1h0.01M551.0,145.0h0.01M559.8,139.9h0.01M467.4,200.1h0.01M476.2,195.0h0.01M485.0,189.9h0.01M493.8,184.8h0.01M502.6,179.8h0.01M511.4,174.7h0.01M520.2,169.6h0.01M529.0,164.5h0.01M537.8,159.4h0.01M546.6,154.3h0.01M555.4,149.2h0.01M564.2,144.2h0.01M463.0,209.4h0.01M471.8,204.3h0.01M480.6,199.2h0.01M489.4,194.1h0.01M498.2,189.1h0.01M507.0,184.0h0.01M515.8,178.9h0.01M524.6,173.8h0.01M533.4,168.7h0.01M542.2,163.6h0.01M551.0,158.5h0.01M559.8,153.4h0.01M467.4,213.6h0.01M476.2,208.5h0.01M485.0,203.4h0.01M493.8,198.3h0.01M502.6,193.3h0.01M511.4,188.2h0.01M520.2,183.1h0.01M529.0,178.0h0.01M537.8,172.9h0.01M546.6,167.8h0.01M555.4,162.7h0.01M564.2,157.7h0.01" stroke="#1a1a1a" stroke-width="1.6" fill="none" stroke-linecap="round"/>
</g>
<rect x="467.9" y="190.79999999999998" width="2.9" height="17.30" fill="#fff" stroke="#1a1a1a" stroke-width="0.6"/>
<line x1="469.30" y1="191.20" x2="469.30" y2="207.90" stroke="#bbb" stroke-width="0.8" />
</g>
<defs><clipPath id="b61c"><rect x="316.5" y="256.7" width="53.20" height="65.60"/></clipPath></defs>
<rect x="316.5" y="256.7" width="53.20" height="65.60" fill="#fff"/>
<g clip-path="url(#b61c)">
<line x1="338.90" y1="256.70" x2="338.90" y2="283.00" stroke="#1a1a1a" stroke-width="0.8" />
<line x1="349.70" y1="256.70" x2="349.70" y2="286.00" stroke="#1a1a1a" stroke-width="0.8" />
<line x1="349.70" y1="257.40" x2="369.70" y2="263.40" stroke="#1a1a1a" stroke-width="0.8" />
<path d="M316.5,265.4 L325,263.2 L327,264 V276.4 L316.5,279.4" stroke="#1a1a1a" stroke-width="0.8" fill="none" />
<path d="M316.5,299.6 L330.8,293.2 M353,291 L370.2,296.3 M316.5,294 L322,292" stroke="#1a1a1a" stroke-width="0.8" fill="none" />
<path d="M330.80,264.00 L338.90,262.00 L338.90,276.80 L330.80,278.20 Z" stroke="#1a1a1a" stroke-width="0.8" fill="#fff" />
<path d="M338.90,262.00 L345.70,262.70 Q347.00,263.00 347.00,264.40 V275.60 Q347.00,277.00 345.38,276.90 L338.90,276.80" stroke="#1a1a1a" stroke-width="0.8" fill="#fff" />
<path d="M342.46,264.80 v3.2 M344.73,264.80 v3.2 M342.46,270.00 v3.2 M344.73,270.00 v3.2" stroke="#444" stroke-width="0.7" fill="none" />
<path d="M342.46,264.80 q0.9,-1.2 1.8,0 M342.46,270.00 q0.9,-1.2 1.8,0" stroke="#444" stroke-width="0.6" fill="none" />
<path d="M332.40,265.80h0.01 M332.40,275.20h0.01 M337.60,264.40h0.01 M337.60,274.60h0.01 M335.17,270.00h0.01" stroke="#444" stroke-width="1.0" fill="none" stroke-linecap="round"/>
<path d="M340.6,266.4 h3.6 q1.6,0.2 1.6,1.6 M340.6,269 h3.2 M340.6,273.4 h3.6 q1.6,0.2 1.6,1.6 M340.6,276 h3.2" stroke="#222" stroke-width="1.2" fill="none" stroke-linecap="round"/>
<path d="M329.10,294.60 C329.70,303.46 333.00,306.23 334.40,312.88 C335.00,316.76 333.80,319.53 332.80,322.30" stroke="#1a1a1a" stroke-width="0.8" fill="none" />
<path d="M348.10,294.60 C347.50,303.46 344.20,306.23 342.80,312.88 C342.20,316.76 343.40,319.53 344.40,322.30" stroke="#1a1a1a" stroke-width="0.8" fill="none" />
<line x1="338.60" y1="294.60" x2="338.60" y2="322.30" stroke="#1a1a1a" stroke-width="0.8" />
<ellipse cx="334.00" cy="297.80" rx="0.6" ry="1.2" stroke="#1a1a1a" stroke-width="0.5" fill="#333" transform="rotate(-12 334.00 297.80)"/>
<ellipse cx="343.80" cy="297.80" rx="0.6" ry="1.2" stroke="#1a1a1a" stroke-width="0.5" fill="#333" transform="rotate(12 343.80 297.80)"/>
<path d="M335.50,280.20 L354.48,283.80 L355.30,289.70 L338.80,294.60 L325.60,290.28 L325.60,283.37 Z" stroke="#1a1a1a" stroke-width="0.9" fill="#fff" />
<path d="M325.60,290.28 L338.80,294.60 L355.30,289.70" stroke="#1a1a1a" stroke-width="1.4" fill="none" />
<path d="M325.60,284.52 Q320.32,281.64 320.32,288.84 V295.32" stroke="#1a1a1a" stroke-width="0.8" fill="none" />
<path d="M323.12,285.96 V294.60" stroke="#1a1a1a" stroke-width="0.7" fill="none" />
<path d="M329.73,284.52 L333.85,289.13" stroke="#1a1a1a" stroke-width="2.6" fill="none" stroke-linecap="round"/>
<path d="M334.68,287.40 L340.45,288.12" stroke="#1a1a1a" stroke-width="1.0" fill="none" />
<ellipse cx="340.78" cy="288.12" rx="1.9" ry="2.6" stroke="#1a1a1a" stroke-width="0.5" fill="#111" />
<path d="M338.80,284.52 L343.42,291.72 M343.42,284.52 L338.80,291.72" stroke="#1a1a1a" stroke-width="0.9" fill="none" />
<ellipse cx="347.05" cy="286.25" rx="0.9" ry="1.5" stroke="#1a1a1a" stroke-width="0.6" fill="#666" />
<path d="M351.67,287.40h0.01" stroke="#1a1a1a" stroke-width="1.3" fill="none" stroke-linecap="round"/>
<path d="M344.57,283.80 V290.28 M349.69,284.52 V290.57" stroke="#1a1a1a" stroke-width="0.6" fill="none" />
<path d="M333.6,298.4 Q333.6,301.6 331.6,304.6" stroke="#111" stroke-width="1.8" fill="none" stroke-linecap="round"/>
<path d="M322.6,296 Q323.4,304 328.4,305.6 Q331.4,306 331.6,304" stroke="#1a1a1a" stroke-width="0.8" fill="none" />
<path d="M325.4,296.6 Q326,302 329.4,303.4" stroke="#1a1a1a" stroke-width="0.7" fill="none" />
</g>
<line x1="348.20" y1="292.60" x2="352.00" y2="300.40" stroke="#1a1a1a" stroke-width="0.75" />
<circle cx="354.50" cy="305.20" r="5.6" stroke="#1a1a1a" stroke-width="0.75" fill="#fff" />
<text x="354.50" y="308.39" font-size="9" text-anchor="middle" font-family="'Liberation Sans', sans-serif" fill="#222" >6</text>
<rect x="316.5" y="256.7" width="53.20" height="65.60" fill="none" stroke="#444" stroke-width="0.8"/>
<text x="318.00" y="255.10" font-size="7.6" text-anchor="start" font-family="'Liberation Sans', sans-serif" fill="#222" textLength="9.4" lengthAdjust="spacingAndGlyphs">6.1</text>
<defs><clipPath id="b62c"><rect x="384.8" y="256.7" width="53.90" height="65.60"/></clipPath></defs>
<rect x="384.8" y="256.7" width="53.90" height="65.60" fill="#fff"/>
<g clip-path="url(#b62c)">
<line x1="407.50" y1="256.70" x2="407.50" y2="283.00" stroke="#1a1a1a" stroke-width="0.8" />
<line x1="417.90" y1="256.70" x2="417.90" y2="286.00" stroke="#1a1a1a" stroke-width="0.8" />
<line x1="417.90" y1="257.40" x2="438.70" y2="263.40" stroke="#1a1a1a" stroke-width="0.8" />
<path d="M384.8,265.4 L393.6,263.2 L395.6,264 V276.4 L384.8,279.4" stroke="#1a1a1a" stroke-width="0.8" fill="none" />
<path d="M384.8,293.4 L393,291.4 M384.8,288.2 L393,286.6 M421.6,291.2 L438.7,296.2" stroke="#1a1a1a" stroke-width="0.8" fill="none" />
<path d="M398.20,264.00 L406.30,262.00 L406.30,276.80 L398.20,278.20 Z" stroke="#1a1a1a" stroke-width="0.8" fill="#fff" />
<path d="M406.30,262.00 L413.10,262.70 Q414.40,263.00 414.40,264.40 V275.60 Q414.40,277.00 412.78,276.90 L406.30,276.80" stroke="#1a1a1a" stroke-width="0.8" fill="#fff" />
<path d="M409.86,264.80 v3.2 M412.13,264.80 v3.2 M409.86,270.00 v3.2 M412.13,270.00 v3.2" stroke="#444" stroke-width="0.7" fill="none" />
<path d="M409.86,264.80 q0.9,-1.2 1.8,0 M409.86,270.00 q0.9,-1.2 1.8,0" stroke="#444" stroke-width="0.6" fill="none" />
<path d="M399.80,265.80h0.01 M399.80,275.20h0.01 M405.00,264.40h0.01 M405.00,274.60h0.01 M402.57,270.00h0.01" stroke="#444" stroke-width="1.0" fill="none" stroke-linecap="round"/>
<path d="M408,266.4 h3.6 q1.6,0.2 1.6,1.6 M408,269 h3.2 M408,273.4 h3.6 q1.6,0.2 1.6,1.6 M408,276 h3.2" stroke="#222" stroke-width="1.2" fill="none" stroke-linecap="round"/>
<path d="M397.80,294.60 C398.40,303.46 401.70,306.23 403.10,312.88 C403.70,316.76 402.50,319.53 401.50,322.30" stroke="#1a1a1a" stroke-width="0.8" fill="none" />
<path d="M416.80,294.60 C416.20,303.46 412.90,306.23 411.50,312.88 C410.90,316.76 412.10,319.53 413.10,322.30" stroke="#1a1a1a" stroke-width="0.8" fill="none" />
<line x1="407.30" y1="294.60" x2="407.30" y2="322.30" stroke="#1a1a1a" stroke-width="0.8" />
<ellipse cx="402.70" cy="297.80" rx="0.6" ry="1.2" stroke="#1a1a1a" stroke-width="0.5" fill="#333" transform="rotate(-12 402.70 297.80)"/>
<ellipse cx="412.50" cy="297.80" rx="0.6" ry="1.2" stroke="#1a1a1a" stroke-width="0.5" fill="#333" transform="rotate(12 412.50 297.80)"/>
<path d="M411.70,280.20 L392.72,283.80 L391.90,289.70 L408.40,294.60 L421.60,290.28 L421.60,283.37 Z" stroke="#1a1a1a" stroke-width="0.9" fill="#fff" />
<path d="M421.60,290.28 L408.40,294.60 L391.90,289.70" stroke="#1a1a1a" stroke-width="1.4" fill="none" />
<path d="M421.60,284.52 Q426.88,281.64 426.88,288.84 V295.32" stroke="#1a1a1a" stroke-width="0.8" fill="none" />
<path d="M424.07,285.96 V294.60" stroke="#1a1a1a" stroke-width="0.7" fill="none" />
<path d="M417.47,284.52 L413.35,289.13" stroke="#1a1a1a" stroke-width="2.6" fill="none" stroke-linecap="round"/>
<path d="M412.52,287.40 L406.75,288.12" stroke="#1a1a1a" stroke-width="1.0" fill="none" />
<ellipse cx="406.42" cy="288.12" rx="1.9" ry="2.6" stroke="#1a1a1a" stroke-width="0.5" fill="#111" />
<path d="M408.40,284.52 L403.78,291.72 M403.78,284.52 L408.40,291.72" stroke="#1a1a1a" stroke-width="0.9" fill="none" />
<ellipse cx="400.15" cy="286.25" rx="0.9" ry="1.5" stroke="#1a1a1a" stroke-width="0.6" fill="#666" />
<path d="M395.53,287.40h0.01" stroke="#1a1a1a" stroke-width="1.3" fill="none" stroke-linecap="round"/>
<path d="M402.62,283.80 V290.28 M397.51,284.52 V290.57" stroke="#1a1a1a" stroke-width="0.6" fill="none" />
<path d="M412,292.4 L431,298.4 M413,294.8 L430,300.4" stroke="#1a1a1a" stroke-width="0.8" fill="none" />
<path d="M414.4,298.4 Q414.6,302.6 416.6,304.8" stroke="#111" stroke-width="1.8" fill="none" stroke-linecap="round"/>
<path d="M416.6,305.6 Q420,307 424.4,297.6" stroke="#1a1a1a" stroke-width="0.8" fill="none" />
<path d="M418.4,303.6 Q420.6,303.2 423,297.6" stroke="#1a1a1a" stroke-width="0.7" fill="none" />
</g>
<line x1="394.40" y1="299.60" x2="398.60" y2="293.00" stroke="#1a1a1a" stroke-width="0.75" />
<circle cx="391.30" cy="304.20" r="5.6" stroke="#1a1a1a" stroke-width="0.75" fill="#fff" />
<text x="391.30" y="307.39" font-size="9" text-anchor="middle" font-family="'Liberation Sans', sans-serif" fill="#222" >6</text>
<rect x="384.8" y="256.7" width="53.90" height="65.60" fill="none" stroke="#444" stroke-width="0.8"/>
<text x="385.40" y="255.10" font-size="7.6" text-anchor="start" font-family="'Liberation Sans', sans-serif" fill="#222" textLength="9.4" lengthAdjust="spacingAndGlyphs">6.2</text>
<path d="M369.7,305.4 H384.8 M351.9,322.3 V363.8 H397.6" stroke="#1a1a1a" stroke-width="0.85" fill="none" stroke-dasharray="2.8 2.3"/>
<path d="M407,351.2 Q399,350.4 397.2,356 Q395.6,362 400.2,367" stroke="#1a1a1a" stroke-width="0.8" fill="none" stroke-dasharray="2.8 2.3"/>
<path d="M473.4,372 Q479.6,367.8 486,371.2" stroke="#1a1a1a" stroke-width="0.8" fill="none" stroke-dasharray="2.8 2.3"/>
<line x1="454.00" y1="310.80" x2="461.60" y2="318.20" stroke="#1a1a1a" stroke-width="0.75" />
<circle cx="450.40" cy="306.70" r="5.5" stroke="#1a1a1a" stroke-width="0.75" fill="#fff" />
<text x="450.40" y="309.61" font-size="8.2" text-anchor="middle" font-family="'Liberation Sans', sans-serif" fill="#222" >C</text>
<line x1="448.60" y1="358.20" x2="444.40" y2="366.20" stroke="#1a1a1a" stroke-width="0.75" />
<circle cx="451.00" cy="353.20" r="5.5" stroke="#1a1a1a" stroke-width="0.75" fill="#fff" />
<text x="451.00" y="356.11" font-size="8.2" text-anchor="middle" font-family="'Liberation Sans', sans-serif" fill="#222" >B</text>
<line x1="514.40" y1="344.50" x2="521.00" y2="351.20" stroke="#1a1a1a" stroke-width="0.75" />
<circle cx="511.00" cy="340.40" r="5.5" stroke="#1a1a1a" stroke-width="0.75" fill="#fff" />
<text x="511.00" y="343.31" font-size="8.2" text-anchor="middle" font-family="'Liberation Sans', sans-serif" fill="#222" >C</text>
</svg></body></html>
